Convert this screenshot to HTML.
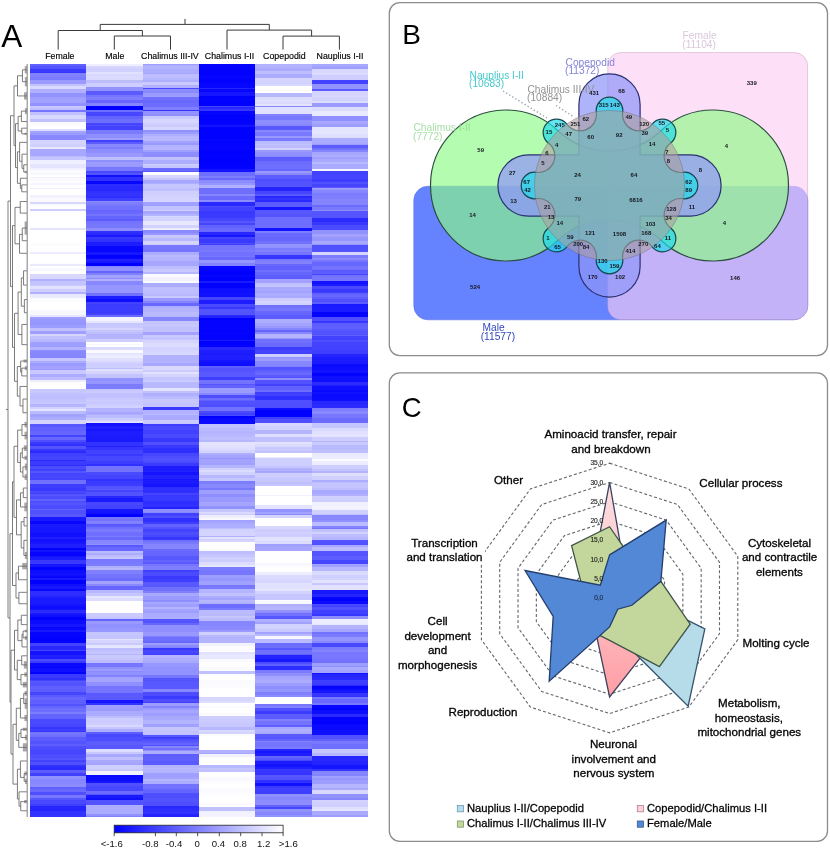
<!DOCTYPE html>
<html><head><meta charset="utf-8"><title>Figure</title>
<style>html,body{margin:0;padding:0;background:#fff;}body{width:830px;height:850px;position:relative;overflow:hidden;font-family:"Liberation Sans", Arial, Helvetica, sans-serif;}</style>
</head><body><svg width="830" height="850" viewBox="0 0 830 850" style="position:absolute;left:0;top:0" font-family='"Liberation Sans", Arial, Helvetica, sans-serif'><text x="1.2" y="46.8" font-size="31.5" fill="#000">A</text><path d="M185 18.9L185 24.4M100.2 24.4L269.3 24.4M100.2 24.4L100.2 30.5M58.2 30.5L142.4 30.5M58.2 30.5L58.2 49.6M142.4 30.5L142.4 36M114.3 36L170.5 36M114.3 36L114.3 49.6M170.5 36L170.5 49.6M269.3 24.4L269.3 30.1M227 30.1L311.6 30.1M227 30.1L227 49.6M311.6 30.1L311.6 36.1M283 36.1L339.4 36.1M283 36.1L283 49.6M339.4 36.1L339.4 49.6" stroke="#3a3a3a" stroke-width="1" fill="none"/><text x="59.85" y="59" font-size="8.8" text-anchor="middle" fill="#000" stroke="#000" stroke-width="0.15">Female</text><text x="114.85" y="59" font-size="8.8" text-anchor="middle" fill="#000" stroke="#000" stroke-width="0.15">Male</text><text x="169.9" y="59" font-size="8.8" text-anchor="middle" fill="#000" stroke="#000" stroke-width="0.15">Chalimus III-IV</text><text x="229.5" y="59" font-size="8.8" text-anchor="middle" fill="#000" stroke="#000" stroke-width="0.15">Chalimus I-II</text><text x="284.4" y="59" font-size="8.8" text-anchor="middle" fill="#000" stroke="#000" stroke-width="0.15">Copepodid</text><text x="340" y="59" font-size="8.8" text-anchor="middle" fill="#000" stroke="#000" stroke-width="0.15">Nauplius I-II</text><g shape-rendering="crispEdges"><rect x="30" y="63.5" width="56.6" height="0.84" fill="#7a7aff"/><rect x="30" y="64.04" width="56.6" height="2.02" fill="#6161ff"/><rect x="30" y="65.76" width="56.6" height="3.34" fill="#5353ff"/><rect x="30" y="68.8" width="56.6" height="3.32" fill="#3b3bff"/><rect x="30" y="71.83" width="56.6" height="1.36" fill="#3535ff"/><rect x="30" y="72.88" width="56.6" height="2.07" fill="#8181ff"/><rect x="30" y="74.66" width="56.6" height="3.07" fill="#8282ff"/><rect x="30" y="77.43" width="56.6" height="2.56" fill="#7b7bff"/><rect x="30" y="79.69" width="56.6" height="4.38" fill="#9a9aff"/><rect x="30" y="83.77" width="56.6" height="2.99" fill="#c2c2ff"/><rect x="30" y="86.46" width="56.6" height="3.05" fill="#d9d9ff"/><rect x="30" y="89.21" width="56.6" height="2.67" fill="#b0b0ff"/><rect x="30" y="91.58" width="56.6" height="2.01" fill="#b0b0ff"/><rect x="30" y="93.29" width="56.6" height="4.38" fill="#9393ff"/><rect x="30" y="97.37" width="56.6" height="2.34" fill="#9e9eff"/><rect x="30" y="99.42" width="56.6" height="3.7" fill="#a3a3ff"/><rect x="30" y="102.82" width="56.6" height="3.02" fill="#9191ff"/><rect x="30" y="105.54" width="56.6" height="2.42" fill="#c8c8ff"/><rect x="30" y="107.66" width="56.6" height="2.26" fill="#bfbfff"/><rect x="30" y="109.62" width="56.6" height="3.02" fill="#7575ff"/><rect x="30" y="112.34" width="56.6" height="3.16" fill="#c1c1ff"/><rect x="30" y="115.2" width="56.6" height="1.52" fill="#d7d7ff"/><rect x="30" y="116.42" width="56.6" height="3.02" fill="#d8d8ff"/><rect x="30" y="119.14" width="56.6" height="3.02" fill="#c1c1ff"/><rect x="30" y="121.86" width="56.6" height="3.99" fill="#fbfbff"/><rect x="30" y="125.55" width="56.6" height="2.15" fill="#ffffff"/><rect x="30" y="127.41" width="56.6" height="1.56" fill="#ffffff"/><rect x="30" y="128.67" width="56.6" height="3.02" fill="#ddddff"/><rect x="30" y="131.39" width="56.6" height="1.92" fill="#a2a2ff"/><rect x="30" y="133.01" width="56.6" height="2.76" fill="#9b9bff"/><rect x="30" y="135.47" width="56.6" height="4.38" fill="#8888ff"/><rect x="30" y="139.55" width="56.6" height="4.38" fill="#d4d4ff"/><rect x="30" y="143.63" width="56.6" height="3.54" fill="#d0d0ff"/><rect x="30" y="146.87" width="56.6" height="2.5" fill="#e8e8ff"/><rect x="30" y="149.07" width="56.6" height="3.22" fill="#a8a8ff"/><rect x="30" y="152" width="56.6" height="3.9" fill="#a7a7ff"/><rect x="30" y="155.6" width="56.6" height="1.66" fill="#bcbcff"/><rect x="30" y="156.97" width="56.6" height="0.33" fill="#c6c6ff"/><rect x="30" y="157" width="56.6" height="3.02" fill="#c5c5ff"/><rect x="30" y="159.72" width="56.6" height="3.19" fill="#efefff"/><rect x="30" y="162.61" width="56.6" height="1.5" fill="#f3f3ff"/><rect x="30" y="163.8" width="56.6" height="4.38" fill="#e5e5ff"/><rect x="30" y="167.88" width="56.6" height="2.19" fill="#f1f1ff"/><rect x="30" y="169.77" width="56.6" height="3.85" fill="#fbfbff"/><rect x="30" y="173.33" width="56.6" height="2.04" fill="#f8f8ff"/><rect x="30" y="175.07" width="56.6" height="1.96" fill="#ffffff"/><rect x="30" y="176.73" width="56.6" height="1.66" fill="#f0f0ff"/><rect x="30" y="178.09" width="56.6" height="3.05" fill="#fbfbff"/><rect x="30" y="180.83" width="56.6" height="2.88" fill="#ffffff"/><rect x="30" y="183.41" width="56.6" height="2.25" fill="#f5f5ff"/><rect x="30" y="185.36" width="56.6" height="2.55" fill="#ffffff"/><rect x="30" y="187.61" width="56.6" height="1.66" fill="#f2f2ff"/><rect x="30" y="188.97" width="56.6" height="3.57" fill="#ffffff"/><rect x="30" y="192.24" width="56.6" height="3.06" fill="#ffffff"/><rect x="30" y="195" width="56.6" height="2.91" fill="#f2f2ff"/><rect x="30" y="197.6" width="56.6" height="4.59" fill="#f9f9ff"/><rect x="30" y="201.9" width="56.6" height="2.34" fill="#d8d8ff"/><rect x="30" y="203.94" width="56.6" height="1.96" fill="#f9f9ff"/><rect x="30" y="205.6" width="56.6" height="3.4" fill="#ffffff"/><rect x="30" y="208.7" width="56.6" height="2.34" fill="#cfcfff"/><rect x="30" y="210.74" width="56.6" height="2.98" fill="#fdfdff"/><rect x="30" y="213.42" width="56.6" height="3.7" fill="#ffffff"/><rect x="30" y="216.82" width="56.6" height="1.99" fill="#ffffff"/><rect x="30" y="218.51" width="56.6" height="2.29" fill="#ffffff"/><rect x="30" y="220.5" width="56.6" height="2.82" fill="#ffffff"/><rect x="30" y="223.02" width="56.6" height="2.25" fill="#ffffff"/><rect x="30" y="224.97" width="56.6" height="3.08" fill="#fefeff"/><rect x="30" y="227.75" width="56.6" height="3.02" fill="#e4e4ff"/><rect x="30" y="230.47" width="56.6" height="3.64" fill="#ffffff"/><rect x="30" y="233.81" width="56.6" height="2.84" fill="#ffffff"/><rect x="30" y="236.35" width="56.6" height="2.89" fill="#ffffff"/><rect x="30" y="238.95" width="56.6" height="4.78" fill="#ffffff"/><rect x="30" y="243.43" width="56.6" height="3.2" fill="#fcfcff"/><rect x="30" y="246.32" width="56.6" height="2.11" fill="#ffffff"/><rect x="30" y="248.13" width="56.6" height="2.83" fill="#fefeff"/><rect x="30" y="250.66" width="56.6" height="1.61" fill="#ffffff"/><rect x="30" y="251.97" width="56.6" height="0.32" fill="#ffffff"/><rect x="30" y="252" width="56.6" height="2.34" fill="#ededff"/><rect x="30" y="254.04" width="56.6" height="3.43" fill="#ffffff"/><rect x="30" y="257.17" width="56.6" height="4.74" fill="#ffffff"/><rect x="30" y="261.61" width="56.6" height="2.94" fill="#fdfdff"/><rect x="30" y="264.24" width="56.6" height="1.66" fill="#eaeaff"/><rect x="30" y="265.61" width="56.6" height="2.3" fill="#ffffff"/><rect x="30" y="267.61" width="56.6" height="4.14" fill="#f8f8ff"/><rect x="30" y="271.44" width="56.6" height="3.31" fill="#ffffff"/><rect x="30" y="274.45" width="56.6" height="5.06" fill="#d8d8ff"/><rect x="30" y="279.21" width="56.6" height="2.34" fill="#b0b0ff"/><rect x="30" y="281.25" width="56.6" height="4.02" fill="#c3c3ff"/><rect x="30" y="284.97" width="56.6" height="1.34" fill="#cbcbff"/><rect x="30" y="286.01" width="56.6" height="1.89" fill="#e2e2ff"/><rect x="30" y="287.6" width="56.6" height="1.43" fill="#e1e1ff"/><rect x="30" y="288.73" width="56.6" height="3.88" fill="#ceceff"/><rect x="30" y="292.31" width="56.6" height="2.16" fill="#b0b0ff"/><rect x="30" y="294.18" width="56.6" height="3.7" fill="#eaeaff"/><rect x="30" y="297.58" width="56.6" height="4.67" fill="#fcfcff"/><rect x="30" y="301.94" width="56.6" height="2.48" fill="#ffffff"/><rect x="30" y="304.12" width="56.6" height="2.39" fill="#ffffff"/><rect x="30" y="306.21" width="56.6" height="4.5" fill="#ffffff"/><rect x="30" y="310.41" width="56.6" height="5.15" fill="#f6f6ff"/><rect x="30" y="315.27" width="56.6" height="2.34" fill="#e5e5ff"/><rect x="30" y="317.31" width="56.6" height="2.05" fill="#9e9eff"/><rect x="30" y="319.06" width="56.6" height="2.63" fill="#9898ff"/><rect x="30" y="321.39" width="56.6" height="4.05" fill="#9696ff"/><rect x="30" y="325.14" width="56.6" height="3.35" fill="#9d9dff"/><rect x="30" y="328.19" width="56.6" height="2.8" fill="#c0c0ff"/><rect x="30" y="330.69" width="56.6" height="3.24" fill="#9f9fff"/><rect x="30" y="333.63" width="56.6" height="3" fill="#d5d5ff"/><rect x="30" y="336.34" width="56.6" height="3.04" fill="#c1c1ff"/><rect x="30" y="339.07" width="56.6" height="3.02" fill="#b7b7ff"/><rect x="30" y="341.8" width="56.6" height="4.22" fill="#9f9fff"/><rect x="30" y="345.72" width="56.6" height="1.55" fill="#9b9bff"/><rect x="30" y="346.97" width="56.6" height="0.33" fill="#aeaeff"/><rect x="30" y="347" width="56.6" height="3.02" fill="#b3b3ff"/><rect x="30" y="349.72" width="56.6" height="1.84" fill="#8c8cff"/><rect x="30" y="351.26" width="56.6" height="4.71" fill="#8787ff"/><rect x="30" y="355.68" width="56.6" height="2.51" fill="#8484ff"/><rect x="30" y="357.88" width="56.6" height="3.1" fill="#c5c5ff"/><rect x="30" y="360.69" width="56.6" height="2.94" fill="#ababff"/><rect x="30" y="363.33" width="56.6" height="2.56" fill="#9a9aff"/><rect x="30" y="365.58" width="56.6" height="3.56" fill="#a3a3ff"/><rect x="30" y="368.84" width="56.6" height="1.59" fill="#9797ff"/><rect x="30" y="370.13" width="56.6" height="4.38" fill="#c9c9ff"/><rect x="30" y="374.21" width="56.6" height="2.86" fill="#ababff"/><rect x="30" y="376.77" width="56.6" height="3.18" fill="#bcbcff"/><rect x="30" y="379.65" width="56.6" height="3.02" fill="#ededff"/><rect x="30" y="382.37" width="56.6" height="3.4" fill="#fcfcff"/><rect x="30" y="385.47" width="56.6" height="4.01" fill="#ffffff"/><rect x="30" y="389.18" width="56.6" height="2.35" fill="#c8c8ff"/><rect x="30" y="391.23" width="56.6" height="1.81" fill="#c8c8ff"/><rect x="30" y="392.74" width="56.6" height="3.22" fill="#c1c1ff"/><rect x="30" y="395.66" width="56.6" height="3.98" fill="#bebeff"/><rect x="30" y="399.33" width="56.6" height="3.36" fill="#c3c3ff"/><rect x="30" y="402.39" width="56.6" height="2.05" fill="#c7c7ff"/><rect x="30" y="404.14" width="56.6" height="3.02" fill="#b4b4ff"/><rect x="30" y="406.86" width="56.6" height="2.55" fill="#d2d2ff"/><rect x="30" y="409.11" width="56.6" height="2.14" fill="#e5e5ff"/><rect x="30" y="410.95" width="56.6" height="3.49" fill="#babaff"/><rect x="30" y="414.13" width="56.6" height="3.13" fill="#a2a2ff"/><rect x="30" y="416.96" width="56.6" height="3.81" fill="#acacff"/><rect x="30" y="420.47" width="56.6" height="3.7" fill="#d4d4ff"/><rect x="30" y="423.87" width="56.6" height="3.16" fill="#5858ff"/><rect x="30" y="426.73" width="56.6" height="4.93" fill="#6161ff"/><rect x="30" y="431.35" width="56.6" height="3.9" fill="#6666ff"/><rect x="30" y="434.95" width="56.6" height="2.58" fill="#4444ff"/><rect x="30" y="437.23" width="56.6" height="3.48" fill="#6767ff"/><rect x="30" y="440.41" width="56.6" height="1.86" fill="#4e4eff"/><rect x="30" y="441.97" width="56.6" height="0.32" fill="#6e6eff"/><rect x="30" y="442" width="56.6" height="2.52" fill="#3a3aff"/><rect x="30" y="444.22" width="56.6" height="2.16" fill="#3030ff"/><rect x="30" y="446.08" width="56.6" height="3.7" fill="#5454ff"/><rect x="30" y="449.48" width="56.6" height="2.26" fill="#3636ff"/><rect x="30" y="451.45" width="56.6" height="2.23" fill="#2a2aff"/><rect x="30" y="453.38" width="56.6" height="2.53" fill="#4040ff"/><rect x="30" y="455.61" width="56.6" height="4.66" fill="#4545ff"/><rect x="30" y="459.96" width="56.6" height="1.38" fill="#2929ff"/><rect x="30" y="461.05" width="56.6" height="4.3" fill="#3b3bff"/><rect x="30" y="465.04" width="56.6" height="1.74" fill="#2e2eff"/><rect x="30" y="466.49" width="56.6" height="2.82" fill="#4c4cff"/><rect x="30" y="469.01" width="56.6" height="2.39" fill="#4040ff"/><rect x="30" y="471.09" width="56.6" height="1.86" fill="#5555ff"/><rect x="30" y="472.65" width="56.6" height="3.46" fill="#4545ff"/><rect x="30" y="475.81" width="56.6" height="2.79" fill="#4848ff"/><rect x="30" y="478.31" width="56.6" height="2.09" fill="#4343ff"/><rect x="30" y="480.1" width="56.6" height="4.38" fill="#7171ff"/><rect x="30" y="484.18" width="56.6" height="4.17" fill="#3d3dff"/><rect x="30" y="488.04" width="56.6" height="3.24" fill="#3838ff"/><rect x="30" y="490.98" width="56.6" height="1.92" fill="#4848ff"/><rect x="30" y="492.6" width="56.6" height="2.19" fill="#3f3fff"/><rect x="30" y="494.49" width="56.6" height="2.23" fill="#5656ff"/><rect x="30" y="496.42" width="56.6" height="2.58" fill="#4b4bff"/><rect x="30" y="498.7" width="56.6" height="2.25" fill="#6060ff"/><rect x="30" y="500.65" width="56.6" height="2.88" fill="#4f4fff"/><rect x="30" y="503.22" width="56.6" height="2.07" fill="#5555ff"/><rect x="30" y="504.99" width="56.6" height="3.97" fill="#4c4cff"/><rect x="30" y="508.67" width="56.6" height="2.02" fill="#6262ff"/><rect x="30" y="510.38" width="56.6" height="4.2" fill="#5050ff"/><rect x="30" y="514.29" width="56.6" height="2.84" fill="#5757ff"/><rect x="30" y="516.83" width="56.6" height="4.38" fill="#1919ff"/><rect x="30" y="520.91" width="56.6" height="3.16" fill="#0707ff"/><rect x="30" y="523.77" width="56.6" height="4.58" fill="#1919ff"/><rect x="30" y="528.05" width="56.6" height="2.6" fill="#1717ff"/><rect x="30" y="530.36" width="56.6" height="2.52" fill="#1717ff"/><rect x="30" y="532.57" width="56.6" height="2.13" fill="#1010ff"/><rect x="30" y="534.4" width="56.6" height="2.87" fill="#1111ff"/><rect x="30" y="536.97" width="56.6" height="0.33" fill="#0808ff"/><rect x="30" y="537" width="56.6" height="2.67" fill="#1e1eff"/><rect x="30" y="539.37" width="56.6" height="3.3" fill="#1212ff"/><rect x="30" y="542.37" width="56.6" height="1.85" fill="#1616ff"/><rect x="30" y="543.92" width="56.6" height="1.54" fill="#1e1eff"/><rect x="30" y="545.16" width="56.6" height="3.02" fill="#1e1eff"/><rect x="30" y="547.88" width="56.6" height="2.37" fill="#0000ff"/><rect x="30" y="549.95" width="56.6" height="2.12" fill="#1212ff"/><rect x="30" y="551.77" width="56.6" height="4.26" fill="#0404ff"/><rect x="30" y="555.73" width="56.6" height="1.98" fill="#1313ff"/><rect x="30" y="557.41" width="56.6" height="3.02" fill="#1b1bff"/><rect x="30" y="560.13" width="56.6" height="4.38" fill="#3838ff"/><rect x="30" y="564.21" width="56.6" height="2.83" fill="#1616ff"/><rect x="30" y="566.74" width="56.6" height="3.71" fill="#0101ff"/><rect x="30" y="570.15" width="56.6" height="3.01" fill="#0c0cff"/><rect x="30" y="572.86" width="56.6" height="2.19" fill="#1111ff"/><rect x="30" y="574.75" width="56.6" height="2.01" fill="#0e0eff"/><rect x="30" y="576.46" width="56.6" height="2.29" fill="#0707ff"/><rect x="30" y="578.45" width="56.6" height="2.05" fill="#1919ff"/><rect x="30" y="580.21" width="56.6" height="3.81" fill="#0000ff"/><rect x="30" y="583.72" width="56.6" height="2.65" fill="#0f0fff"/><rect x="30" y="586.06" width="56.6" height="3.18" fill="#1616ff"/><rect x="30" y="588.94" width="56.6" height="2.78" fill="#0707ff"/><rect x="30" y="591.42" width="56.6" height="4.69" fill="#2d2dff"/><rect x="30" y="595.81" width="56.6" height="2.72" fill="#2323ff"/><rect x="30" y="598.22" width="56.6" height="4.7" fill="#1a1aff"/><rect x="30" y="602.62" width="56.6" height="1.35" fill="#1c1cff"/><rect x="30" y="603.67" width="56.6" height="2.94" fill="#1414ff"/><rect x="30" y="606.31" width="56.6" height="3.22" fill="#0d0dff"/><rect x="30" y="609.24" width="56.6" height="1.53" fill="#1414ff"/><rect x="30" y="610.47" width="56.6" height="1.81" fill="#2a2aff"/><rect x="30" y="611.98" width="56.6" height="1.51" fill="#2f2fff"/><rect x="30" y="613.19" width="56.6" height="1.93" fill="#1717ff"/><rect x="30" y="614.82" width="56.6" height="2.5" fill="#0f0fff"/><rect x="30" y="617.01" width="56.6" height="3.56" fill="#0000ff"/><rect x="30" y="620.27" width="56.6" height="3.77" fill="#0b0bff"/><rect x="30" y="623.74" width="56.6" height="3.95" fill="#1515ff"/><rect x="30" y="627.39" width="56.6" height="2.78" fill="#0707ff"/><rect x="30" y="629.87" width="56.6" height="2.4" fill="#1818ff"/><rect x="30" y="631.97" width="56.6" height="0.33" fill="#0404ff"/><rect x="30" y="632" width="56.6" height="1.93" fill="#0303ff"/><rect x="30" y="633.63" width="56.6" height="3.68" fill="#0505ff"/><rect x="30" y="637.01" width="56.6" height="4" fill="#0101ff"/><rect x="30" y="640.71" width="56.6" height="2.47" fill="#0202ff"/><rect x="30" y="642.88" width="56.6" height="3.31" fill="#4242ff"/><rect x="30" y="645.9" width="56.6" height="4.28" fill="#2929ff"/><rect x="30" y="649.88" width="56.6" height="1.47" fill="#4444ff"/><rect x="30" y="651.05" width="56.6" height="3.88" fill="#1313ff"/><rect x="30" y="654.63" width="56.6" height="2.49" fill="#2222ff"/><rect x="30" y="656.82" width="56.6" height="2.69" fill="#1d1dff"/><rect x="30" y="659.21" width="56.6" height="2.11" fill="#4d4dff"/><rect x="30" y="661.03" width="56.6" height="2.57" fill="#3c3cff"/><rect x="30" y="663.29" width="56.6" height="3.68" fill="#0909ff"/><rect x="30" y="666.67" width="56.6" height="1.81" fill="#0404ff"/><rect x="30" y="668.18" width="56.6" height="4.19" fill="#0e0eff"/><rect x="30" y="672.07" width="56.6" height="2.4" fill="#0202ff"/><rect x="30" y="674.18" width="56.6" height="3.78" fill="#3939ff"/><rect x="30" y="677.65" width="56.6" height="2.26" fill="#3131ff"/><rect x="30" y="679.62" width="56.6" height="2.02" fill="#4545ff"/><rect x="30" y="681.34" width="56.6" height="2.42" fill="#5757ff"/><rect x="30" y="683.46" width="56.6" height="3.26" fill="#5252ff"/><rect x="30" y="686.42" width="56.6" height="2.95" fill="#6161ff"/><rect x="30" y="689.07" width="56.6" height="3.09" fill="#5c5cff"/><rect x="30" y="691.86" width="56.6" height="3.65" fill="#4646ff"/><rect x="30" y="695.21" width="56.6" height="2.39" fill="#5a5aff"/><rect x="30" y="697.31" width="56.6" height="2.56" fill="#6666ff"/><rect x="30" y="699.57" width="56.6" height="3.48" fill="#5f5fff"/><rect x="30" y="702.75" width="56.6" height="1.84" fill="#6161ff"/><rect x="30" y="704.29" width="56.6" height="1.98" fill="#5353ff"/><rect x="30" y="705.97" width="56.6" height="2.52" fill="#6464ff"/><rect x="30" y="708.19" width="56.6" height="3.83" fill="#6e6eff"/><rect x="30" y="711.72" width="56.6" height="2.22" fill="#7d7dff"/><rect x="30" y="713.63" width="56.6" height="3.2" fill="#6464ff"/><rect x="30" y="716.53" width="56.6" height="2.84" fill="#6363ff"/><rect x="30" y="719.07" width="56.6" height="4.73" fill="#4949ff"/><rect x="30" y="723.51" width="56.6" height="3.76" fill="#4646ff"/><rect x="30" y="726.97" width="56.6" height="0.33" fill="#4343ff"/><rect x="30" y="727" width="56.6" height="2.61" fill="#3737ff"/><rect x="30" y="729.31" width="56.6" height="2.43" fill="#3f3fff"/><rect x="30" y="731.44" width="56.6" height="1.31" fill="#3636ff"/><rect x="30" y="732.44" width="56.6" height="3.02" fill="#7575ff"/><rect x="30" y="735.16" width="56.6" height="2.2" fill="#6e6eff"/><rect x="30" y="737.06" width="56.6" height="3.84" fill="#5d5dff"/><rect x="30" y="740.61" width="56.6" height="3.91" fill="#5454ff"/><rect x="30" y="744.22" width="56.6" height="2.49" fill="#5e5eff"/><rect x="30" y="746.41" width="56.6" height="1.87" fill="#4e4eff"/><rect x="30" y="747.98" width="56.6" height="2.45" fill="#4a4aff"/><rect x="30" y="750.13" width="56.6" height="2.71" fill="#4747ff"/><rect x="30" y="752.54" width="56.6" height="2.22" fill="#4242ff"/><rect x="30" y="754.46" width="56.6" height="4.14" fill="#4e4eff"/><rect x="30" y="758.29" width="56.6" height="1.81" fill="#5555ff"/><rect x="30" y="759.8" width="56.6" height="2.16" fill="#4242ff"/><rect x="30" y="761.66" width="56.6" height="3.74" fill="#5050ff"/><rect x="30" y="765.1" width="56.6" height="2.67" fill="#3232ff"/><rect x="30" y="767.46" width="56.6" height="2.92" fill="#2a2aff"/><rect x="30" y="770.08" width="56.6" height="3.57" fill="#5d5dff"/><rect x="30" y="773.35" width="56.6" height="2.93" fill="#4040ff"/><rect x="30" y="775.98" width="56.6" height="1.94" fill="#9191ff"/><rect x="30" y="777.62" width="56.6" height="2.11" fill="#9292ff"/><rect x="30" y="779.43" width="56.6" height="4.61" fill="#8787ff"/><rect x="30" y="783.74" width="56.6" height="3.43" fill="#8c8cff"/><rect x="30" y="786.86" width="56.6" height="2.37" fill="#6161ff"/><rect x="30" y="788.93" width="56.6" height="2.92" fill="#6969ff"/><rect x="30" y="791.55" width="56.6" height="3.77" fill="#4f4fff"/><rect x="30" y="795.03" width="56.6" height="3.69" fill="#7777ff"/><rect x="30" y="798.42" width="56.6" height="2.35" fill="#5757ff"/><rect x="30" y="800.47" width="56.6" height="3.96" fill="#4848ff"/><rect x="30" y="804.13" width="56.6" height="2.08" fill="#3e3eff"/><rect x="30" y="805.91" width="56.6" height="4.06" fill="#2525ff"/><rect x="30" y="809.67" width="56.6" height="1.95" fill="#2424ff"/><rect x="30" y="811.32" width="56.6" height="4.58" fill="#3232ff"/><rect x="30" y="815.6" width="56.6" height="1.7" fill="#3333ff"/><rect x="86.3" y="63.5" width="56.6" height="2.69" fill="#efefff"/><rect x="86.3" y="65.89" width="56.6" height="2.53" fill="#d6d6ff"/><rect x="86.3" y="68.12" width="56.6" height="3.77" fill="#d1d1ff"/><rect x="86.3" y="71.59" width="56.6" height="2.98" fill="#e1e1ff"/><rect x="86.3" y="74.27" width="56.6" height="2.3" fill="#d8d8ff"/><rect x="86.3" y="76.28" width="56.6" height="3.71" fill="#dadaff"/><rect x="86.3" y="79.69" width="56.6" height="3.29" fill="#bcbcff"/><rect x="86.3" y="82.68" width="56.6" height="4.79" fill="#cdcdff"/><rect x="86.3" y="87.17" width="56.6" height="3.7" fill="#9292ff"/><rect x="86.3" y="90.57" width="56.6" height="2.07" fill="#5a5aff"/><rect x="86.3" y="92.34" width="56.6" height="2.61" fill="#5b5bff"/><rect x="86.3" y="94.65" width="56.6" height="2.58" fill="#7575ff"/><rect x="86.3" y="96.93" width="56.6" height="3.51" fill="#7e7eff"/><rect x="86.3" y="100.14" width="56.6" height="2.98" fill="#6767ff"/><rect x="86.3" y="102.82" width="56.6" height="3.02" fill="#8484ff"/><rect x="86.3" y="105.54" width="56.6" height="2.81" fill="#0000ff"/><rect x="86.3" y="108.05" width="56.6" height="1.87" fill="#0101ff"/><rect x="86.3" y="109.62" width="56.6" height="2.18" fill="#6f6fff"/><rect x="86.3" y="111.5" width="56.6" height="3.31" fill="#4747ff"/><rect x="86.3" y="114.51" width="56.6" height="2.21" fill="#4747ff"/><rect x="86.3" y="116.42" width="56.6" height="2.61" fill="#6363ff"/><rect x="86.3" y="118.73" width="56.6" height="3.14" fill="#6d6dff"/><rect x="86.3" y="121.57" width="56.6" height="1.95" fill="#6f6fff"/><rect x="86.3" y="123.22" width="56.6" height="1.87" fill="#4545ff"/><rect x="86.3" y="124.79" width="56.6" height="1.9" fill="#5050ff"/><rect x="86.3" y="126.39" width="56.6" height="3.94" fill="#4141ff"/><rect x="86.3" y="130.03" width="56.6" height="4.38" fill="#7b7bff"/><rect x="86.3" y="134.11" width="56.6" height="4.58" fill="#8e8eff"/><rect x="86.3" y="138.39" width="56.6" height="1.46" fill="#9e9eff"/><rect x="86.3" y="139.55" width="56.6" height="2.55" fill="#4040ff"/><rect x="86.3" y="141.8" width="56.6" height="2.14" fill="#5c5cff"/><rect x="86.3" y="143.63" width="56.6" height="3.85" fill="#8989ff"/><rect x="86.3" y="147.18" width="56.6" height="2.2" fill="#7d7dff"/><rect x="86.3" y="149.07" width="56.6" height="4.09" fill="#8e8eff"/><rect x="86.3" y="152.87" width="56.6" height="3.17" fill="#9999ff"/><rect x="86.3" y="155.74" width="56.6" height="1.52" fill="#9b9bff"/><rect x="86.3" y="156.97" width="56.6" height="0.33" fill="#9a9aff"/><rect x="86.3" y="157" width="56.6" height="3.02" fill="#bfbfff"/><rect x="86.3" y="159.72" width="56.6" height="2.18" fill="#8e8eff"/><rect x="86.3" y="161.6" width="56.6" height="3.9" fill="#9c9cff"/><rect x="86.3" y="165.2" width="56.6" height="1.62" fill="#9999ff"/><rect x="86.3" y="166.52" width="56.6" height="4.38" fill="#7777ff"/><rect x="86.3" y="170.61" width="56.6" height="2.96" fill="#4949ff"/><rect x="86.3" y="173.27" width="56.6" height="1.72" fill="#5454ff"/><rect x="86.3" y="174.69" width="56.6" height="2.7" fill="#1212ff"/><rect x="86.3" y="177.09" width="56.6" height="4.7" fill="#3131ff"/><rect x="86.3" y="181.49" width="56.6" height="3.02" fill="#0707ff"/><rect x="86.3" y="184.21" width="56.6" height="2.54" fill="#2c2cff"/><rect x="86.3" y="186.45" width="56.6" height="4.86" fill="#2828ff"/><rect x="86.3" y="191.01" width="56.6" height="1.87" fill="#3131ff"/><rect x="86.3" y="192.58" width="56.6" height="3.29" fill="#3434ff"/><rect x="86.3" y="195.57" width="56.6" height="2.57" fill="#2f2fff"/><rect x="86.3" y="197.85" width="56.6" height="2.99" fill="#3f3fff"/><rect x="86.3" y="200.54" width="56.6" height="1.9" fill="#8a8aff"/><rect x="86.3" y="202.14" width="56.6" height="2.1" fill="#8080ff"/><rect x="86.3" y="203.94" width="56.6" height="2.39" fill="#7979ff"/><rect x="86.3" y="206.03" width="56.6" height="4.19" fill="#7171ff"/><rect x="86.3" y="209.92" width="56.6" height="2.42" fill="#6666ff"/><rect x="86.3" y="212.04" width="56.6" height="2.4" fill="#6a6aff"/><rect x="86.3" y="214.14" width="56.6" height="2.49" fill="#7474ff"/><rect x="86.3" y="216.34" width="56.6" height="2.46" fill="#6464ff"/><rect x="86.3" y="218.5" width="56.6" height="2.75" fill="#5b5bff"/><rect x="86.3" y="220.95" width="56.6" height="3.29" fill="#7474ff"/><rect x="86.3" y="223.93" width="56.6" height="3.05" fill="#7878ff"/><rect x="86.3" y="226.68" width="56.6" height="1.36" fill="#7777ff"/><rect x="86.3" y="227.75" width="56.6" height="3.7" fill="#8c8cff"/><rect x="86.3" y="231.15" width="56.6" height="2.44" fill="#3030ff"/><rect x="86.3" y="233.29" width="56.6" height="1.96" fill="#2a2aff"/><rect x="86.3" y="234.94" width="56.6" height="1.98" fill="#1a1aff"/><rect x="86.3" y="236.62" width="56.6" height="2.31" fill="#3838ff"/><rect x="86.3" y="238.63" width="56.6" height="4" fill="#3333ff"/><rect x="86.3" y="242.33" width="56.6" height="2.04" fill="#1c1cff"/><rect x="86.3" y="244.07" width="56.6" height="2.36" fill="#1d1dff"/><rect x="86.3" y="246.13" width="56.6" height="1.9" fill="#0808ff"/><rect x="86.3" y="247.73" width="56.6" height="4.54" fill="#0707ff"/><rect x="86.3" y="251.97" width="56.6" height="0.32" fill="#0202ff"/><rect x="86.3" y="252" width="56.6" height="3.02" fill="#1616ff"/><rect x="86.3" y="254.72" width="56.6" height="2.85" fill="#0000ff"/><rect x="86.3" y="257.28" width="56.6" height="1.83" fill="#0505ff"/><rect x="86.3" y="258.8" width="56.6" height="2.42" fill="#2020ff"/><rect x="86.3" y="260.92" width="56.6" height="2.87" fill="#1616ff"/><rect x="86.3" y="263.49" width="56.6" height="2.41" fill="#0000ff"/><rect x="86.3" y="265.61" width="56.6" height="1.95" fill="#8484ff"/><rect x="86.3" y="267.25" width="56.6" height="4.09" fill="#8f8fff"/><rect x="86.3" y="271.05" width="56.6" height="2.38" fill="#6363ff"/><rect x="86.3" y="273.13" width="56.6" height="2.3" fill="#8181ff"/><rect x="86.3" y="275.13" width="56.6" height="3.03" fill="#a2a2ff"/><rect x="86.3" y="277.86" width="56.6" height="1.92" fill="#8c8cff"/><rect x="86.3" y="279.48" width="56.6" height="1.39" fill="#b0b0ff"/><rect x="86.3" y="280.57" width="56.6" height="2.57" fill="#8888ff"/><rect x="86.3" y="282.84" width="56.6" height="2.11" fill="#8787ff"/><rect x="86.3" y="284.65" width="56.6" height="2.62" fill="#9696ff"/><rect x="86.3" y="286.97" width="56.6" height="4.67" fill="#9696ff"/><rect x="86.3" y="291.34" width="56.6" height="1.77" fill="#9797ff"/><rect x="86.3" y="292.82" width="56.6" height="3.02" fill="#7171ff"/><rect x="86.3" y="295.54" width="56.6" height="4.07" fill="#1d1dff"/><rect x="86.3" y="299.3" width="56.6" height="3.34" fill="#0d0dff"/><rect x="86.3" y="302.34" width="56.6" height="1.87" fill="#4343ff"/><rect x="86.3" y="303.91" width="56.6" height="2.81" fill="#3c3cff"/><rect x="86.3" y="306.42" width="56.6" height="4.66" fill="#3d3dff"/><rect x="86.3" y="310.78" width="56.6" height="2.96" fill="#3939ff"/><rect x="86.3" y="313.44" width="56.6" height="1.44" fill="#4343ff"/><rect x="86.3" y="314.59" width="56.6" height="3.02" fill="#6a6aff"/><rect x="86.3" y="317.31" width="56.6" height="4.02" fill="#f3f3ff"/><rect x="86.3" y="321.02" width="56.6" height="2.03" fill="#e5e5ff"/><rect x="86.3" y="322.75" width="56.6" height="2.78" fill="#c7c7ff"/><rect x="86.3" y="325.23" width="56.6" height="3.26" fill="#c9c9ff"/><rect x="86.3" y="328.19" width="56.6" height="2.04" fill="#d4d4ff"/><rect x="86.3" y="329.93" width="56.6" height="2.39" fill="#c6c6ff"/><rect x="86.3" y="332.02" width="56.6" height="1.91" fill="#bfbfff"/><rect x="86.3" y="333.63" width="56.6" height="1.9" fill="#b0b0ff"/><rect x="86.3" y="335.23" width="56.6" height="4.14" fill="#b5b5ff"/><rect x="86.3" y="339.07" width="56.6" height="3.02" fill="#ceceff"/><rect x="86.3" y="341.8" width="56.6" height="2.05" fill="#ffffff"/><rect x="86.3" y="343.55" width="56.6" height="2.09" fill="#f6f6ff"/><rect x="86.3" y="345.34" width="56.6" height="1.93" fill="#ffffff"/><rect x="86.3" y="346.97" width="56.6" height="0.33" fill="#babaff"/><rect x="86.3" y="347" width="56.6" height="3.02" fill="#dbdbff"/><rect x="86.3" y="349.72" width="56.6" height="4.04" fill="#f9f9ff"/><rect x="86.3" y="353.47" width="56.6" height="2.16" fill="#e5e5ff"/><rect x="86.3" y="355.33" width="56.6" height="2.86" fill="#ededff"/><rect x="86.3" y="357.88" width="56.6" height="2.92" fill="#e1e1ff"/><rect x="86.3" y="360.5" width="56.6" height="3.12" fill="#d7d7ff"/><rect x="86.3" y="363.33" width="56.6" height="2.54" fill="#cdcdff"/><rect x="86.3" y="365.56" width="56.6" height="2.26" fill="#d0d0ff"/><rect x="86.3" y="367.52" width="56.6" height="1.55" fill="#bebeff"/><rect x="86.3" y="368.77" width="56.6" height="2.99" fill="#e0e0ff"/><rect x="86.3" y="371.46" width="56.6" height="2.49" fill="#d4d4ff"/><rect x="86.3" y="373.65" width="56.6" height="4.94" fill="#c3c3ff"/><rect x="86.3" y="378.29" width="56.6" height="3.02" fill="#9191ff"/><rect x="86.3" y="381.01" width="56.6" height="3.22" fill="#9696ff"/><rect x="86.3" y="383.94" width="56.6" height="5.54" fill="#7c7cff"/><rect x="86.3" y="389.18" width="56.6" height="1.92" fill="#c5c5ff"/><rect x="86.3" y="390.8" width="56.6" height="2.76" fill="#cbcbff"/><rect x="86.3" y="393.26" width="56.6" height="4.72" fill="#c1c1ff"/><rect x="86.3" y="397.68" width="56.6" height="2.92" fill="#c9c9ff"/><rect x="86.3" y="400.29" width="56.6" height="1.43" fill="#cdcdff"/><rect x="86.3" y="401.42" width="56.6" height="4.13" fill="#c9c9ff"/><rect x="86.3" y="405.26" width="56.6" height="3.27" fill="#d1d1ff"/><rect x="86.3" y="408.22" width="56.6" height="3.66" fill="#b2b2ff"/><rect x="86.3" y="411.58" width="56.6" height="2.45" fill="#a6a6ff"/><rect x="86.3" y="413.74" width="56.6" height="1.59" fill="#aeaeff"/><rect x="86.3" y="415.03" width="56.6" height="3.02" fill="#bbbbff"/><rect x="86.3" y="417.75" width="56.6" height="2.41" fill="#ccccff"/><rect x="86.3" y="419.86" width="56.6" height="1.83" fill="#ceceff"/><rect x="86.3" y="421.39" width="56.6" height="2.1" fill="#e2e2ff"/><rect x="86.3" y="423.19" width="56.6" height="2.74" fill="#1313ff"/><rect x="86.3" y="425.63" width="56.6" height="3.44" fill="#1f1fff"/><rect x="86.3" y="428.77" width="56.6" height="2.88" fill="#1616ff"/><rect x="86.3" y="431.35" width="56.6" height="3.45" fill="#1d1dff"/><rect x="86.3" y="434.5" width="56.6" height="3.72" fill="#1c1cff"/><rect x="86.3" y="437.92" width="56.6" height="4.34" fill="#1a1aff"/><rect x="86.3" y="441.97" width="56.6" height="0.32" fill="#0c0cff"/><rect x="86.3" y="442" width="56.6" height="4.66" fill="#3333ff"/><rect x="86.3" y="446.36" width="56.6" height="1.38" fill="#2222ff"/><rect x="86.3" y="447.44" width="56.6" height="3.05" fill="#3535ff"/><rect x="86.3" y="450.19" width="56.6" height="4.39" fill="#4242ff"/><rect x="86.3" y="454.28" width="56.6" height="1.62" fill="#3838ff"/><rect x="86.3" y="455.61" width="56.6" height="3.98" fill="#4747ff"/><rect x="86.3" y="459.29" width="56.6" height="2.06" fill="#4848ff"/><rect x="86.3" y="461.05" width="56.6" height="3.07" fill="#3d3dff"/><rect x="86.3" y="463.82" width="56.6" height="2.29" fill="#3030ff"/><rect x="86.3" y="465.81" width="56.6" height="3.18" fill="#7272ff"/><rect x="86.3" y="468.69" width="56.6" height="3.54" fill="#7373ff"/><rect x="86.3" y="471.93" width="56.6" height="3.72" fill="#4a4aff"/><rect x="86.3" y="475.35" width="56.6" height="3.68" fill="#4545ff"/><rect x="86.3" y="478.73" width="56.6" height="2.91" fill="#3333ff"/><rect x="86.3" y="481.35" width="56.6" height="2.65" fill="#3939ff"/><rect x="86.3" y="483.7" width="56.6" height="2.14" fill="#3d3dff"/><rect x="86.3" y="485.54" width="56.6" height="3.27" fill="#5353ff"/><rect x="86.3" y="488.51" width="56.6" height="1.41" fill="#5b5bff"/><rect x="86.3" y="489.62" width="56.6" height="2.18" fill="#4545ff"/><rect x="86.3" y="491.5" width="56.6" height="5.22" fill="#5252ff"/><rect x="86.3" y="496.42" width="56.6" height="1.96" fill="#2929ff"/><rect x="86.3" y="498.08" width="56.6" height="4.08" fill="#1a1aff"/><rect x="86.3" y="501.86" width="56.6" height="3.66" fill="#4747ff"/><rect x="86.3" y="505.22" width="56.6" height="3.74" fill="#4242ff"/><rect x="86.3" y="508.67" width="56.6" height="2.47" fill="#1717ff"/><rect x="86.3" y="510.83" width="56.6" height="3.01" fill="#1313ff"/><rect x="86.3" y="513.55" width="56.6" height="2.35" fill="#0000ff"/><rect x="86.3" y="515.6" width="56.6" height="1.53" fill="#0000ff"/><rect x="86.3" y="516.83" width="56.6" height="2.95" fill="#7878ff"/><rect x="86.3" y="519.48" width="56.6" height="2.17" fill="#7272ff"/><rect x="86.3" y="521.35" width="56.6" height="2.58" fill="#8181ff"/><rect x="86.3" y="523.63" width="56.6" height="1.92" fill="#5454ff"/><rect x="86.3" y="525.26" width="56.6" height="1.91" fill="#5d5dff"/><rect x="86.3" y="526.87" width="56.6" height="2.5" fill="#6d6dff"/><rect x="86.3" y="529.07" width="56.6" height="3.45" fill="#7a7aff"/><rect x="86.3" y="532.22" width="56.6" height="3.68" fill="#6e6eff"/><rect x="86.3" y="535.61" width="56.6" height="1.66" fill="#7b7bff"/><rect x="86.3" y="536.97" width="56.6" height="0.33" fill="#4f4fff"/><rect x="86.3" y="537" width="56.6" height="3.02" fill="#6868ff"/><rect x="86.3" y="539.72" width="56.6" height="1.87" fill="#8585ff"/><rect x="86.3" y="541.29" width="56.6" height="2.51" fill="#8686ff"/><rect x="86.3" y="543.5" width="56.6" height="1.97" fill="#9090ff"/><rect x="86.3" y="545.16" width="56.6" height="2.34" fill="#5858ff"/><rect x="86.3" y="547.2" width="56.6" height="3.7" fill="#6767ff"/><rect x="86.3" y="550.61" width="56.6" height="3.09" fill="#bbbbff"/><rect x="86.3" y="553.4" width="56.6" height="2.08" fill="#adadff"/><rect x="86.3" y="555.17" width="56.6" height="1.92" fill="#bcbcff"/><rect x="86.3" y="556.79" width="56.6" height="2.27" fill="#c6c6ff"/><rect x="86.3" y="558.77" width="56.6" height="4.13" fill="#7979ff"/><rect x="86.3" y="562.6" width="56.6" height="3.27" fill="#7c7cff"/><rect x="86.3" y="565.57" width="56.6" height="2.93" fill="#aeaeff"/><rect x="86.3" y="568.21" width="56.6" height="1.75" fill="#b7b7ff"/><rect x="86.3" y="569.65" width="56.6" height="4.79" fill="#8080ff"/><rect x="86.3" y="574.14" width="56.6" height="4" fill="#7474ff"/><rect x="86.3" y="577.84" width="56.6" height="3" fill="#6b6bff"/><rect x="86.3" y="580.54" width="56.6" height="3.28" fill="#a3a3ff"/><rect x="86.3" y="583.51" width="56.6" height="2.77" fill="#8888ff"/><rect x="86.3" y="585.98" width="56.6" height="4.38" fill="#6666ff"/><rect x="86.3" y="590.06" width="56.6" height="2.85" fill="#b7b7ff"/><rect x="86.3" y="592.61" width="56.6" height="3.19" fill="#c4c4ff"/><rect x="86.3" y="595.5" width="56.6" height="2.62" fill="#e6e6ff"/><rect x="86.3" y="597.83" width="56.6" height="3.42" fill="#dcdcff"/><rect x="86.3" y="600.95" width="56.6" height="4.56" fill="#ffffff"/><rect x="86.3" y="605.21" width="56.6" height="2.42" fill="#fefeff"/><rect x="86.3" y="607.33" width="56.6" height="2.76" fill="#ffffff"/><rect x="86.3" y="609.79" width="56.6" height="1.91" fill="#ffffff"/><rect x="86.3" y="611.4" width="56.6" height="2.09" fill="#ffffff"/><rect x="86.3" y="613.19" width="56.6" height="3.84" fill="#cbcbff"/><rect x="86.3" y="616.73" width="56.6" height="2.2" fill="#c3c3ff"/><rect x="86.3" y="618.63" width="56.6" height="3.02" fill="#6363ff"/><rect x="86.3" y="621.35" width="56.6" height="2.88" fill="#9999ff"/><rect x="86.3" y="623.93" width="56.6" height="4.42" fill="#9090ff"/><rect x="86.3" y="628.05" width="56.6" height="4.21" fill="#9797ff"/><rect x="86.3" y="631.97" width="56.6" height="0.33" fill="#d4d4ff"/><rect x="86.3" y="632" width="56.6" height="2.98" fill="#c6c6ff"/><rect x="86.3" y="634.68" width="56.6" height="4.19" fill="#c4c4ff"/><rect x="86.3" y="638.58" width="56.6" height="1.89" fill="#e4e4ff"/><rect x="86.3" y="640.16" width="56.6" height="2.88" fill="#d5d5ff"/><rect x="86.3" y="642.74" width="56.6" height="2.33" fill="#cacaff"/><rect x="86.3" y="644.77" width="56.6" height="3.85" fill="#e6e6ff"/><rect x="86.3" y="648.33" width="56.6" height="2.56" fill="#bebeff"/><rect x="86.3" y="650.59" width="56.6" height="3.72" fill="#c5c5ff"/><rect x="86.3" y="654.01" width="56.6" height="1.42" fill="#b7b7ff"/><rect x="86.3" y="655.13" width="56.6" height="2.74" fill="#c9c9ff"/><rect x="86.3" y="657.57" width="56.6" height="2.25" fill="#c6c6ff"/><rect x="86.3" y="659.52" width="56.6" height="4.08" fill="#bcbcff"/><rect x="86.3" y="663.29" width="56.6" height="4.38" fill="#7676ff"/><rect x="86.3" y="667.37" width="56.6" height="2.2" fill="#9090ff"/><rect x="86.3" y="669.27" width="56.6" height="1.87" fill="#9c9cff"/><rect x="86.3" y="670.84" width="56.6" height="1.81" fill="#8b8bff"/><rect x="86.3" y="672.34" width="56.6" height="2.87" fill="#9191ff"/><rect x="86.3" y="674.92" width="56.6" height="2.28" fill="#8282ff"/><rect x="86.3" y="676.9" width="56.6" height="2.41" fill="#a3a3ff"/><rect x="86.3" y="679.01" width="56.6" height="3.63" fill="#a5a5ff"/><rect x="86.3" y="682.34" width="56.6" height="4.38" fill="#8f8fff"/><rect x="86.3" y="686.42" width="56.6" height="2.53" fill="#7474ff"/><rect x="86.3" y="688.65" width="56.6" height="3.71" fill="#7575ff"/><rect x="86.3" y="692.07" width="56.6" height="1.46" fill="#7373ff"/><rect x="86.3" y="693.22" width="56.6" height="2.59" fill="#5959ff"/><rect x="86.3" y="695.52" width="56.6" height="1.83" fill="#5b5bff"/><rect x="86.3" y="697.05" width="56.6" height="3.28" fill="#5959ff"/><rect x="86.3" y="700.03" width="56.6" height="3.74" fill="#1515ff"/><rect x="86.3" y="703.46" width="56.6" height="2.31" fill="#3333ff"/><rect x="86.3" y="705.47" width="56.6" height="2.55" fill="#9e9eff"/><rect x="86.3" y="707.71" width="56.6" height="3.5" fill="#9a9aff"/><rect x="86.3" y="710.91" width="56.6" height="3.02" fill="#aaaaff"/><rect x="86.3" y="713.63" width="56.6" height="3.02" fill="#adadff"/><rect x="86.3" y="716.35" width="56.6" height="1.84" fill="#bebeff"/><rect x="86.3" y="717.89" width="56.6" height="2.23" fill="#cdcdff"/><rect x="86.3" y="719.82" width="56.6" height="2.4" fill="#cbcbff"/><rect x="86.3" y="721.92" width="56.6" height="3.72" fill="#cdcdff"/><rect x="86.3" y="725.34" width="56.6" height="1.93" fill="#d8d8ff"/><rect x="86.3" y="726.97" width="56.6" height="0.33" fill="#c0c0ff"/><rect x="86.3" y="727" width="56.6" height="1.95" fill="#c5c5ff"/><rect x="86.3" y="728.65" width="56.6" height="4.1" fill="#adadff"/><rect x="86.3" y="732.44" width="56.6" height="1.82" fill="#5e5eff"/><rect x="86.3" y="733.96" width="56.6" height="3.2" fill="#4747ff"/><rect x="86.3" y="736.86" width="56.6" height="4.03" fill="#4e4eff"/><rect x="86.3" y="740.58" width="56.6" height="2.12" fill="#5757ff"/><rect x="86.3" y="742.4" width="56.6" height="2.5" fill="#5e5eff"/><rect x="86.3" y="744.6" width="56.6" height="4.47" fill="#5757ff"/><rect x="86.3" y="748.77" width="56.6" height="3.89" fill="#ddddff"/><rect x="86.3" y="752.35" width="56.6" height="2.16" fill="#c8c8ff"/><rect x="86.3" y="754.21" width="56.6" height="3.46" fill="#a8a8ff"/><rect x="86.3" y="757.37" width="56.6" height="3.37" fill="#bfbfff"/><rect x="86.3" y="760.44" width="56.6" height="2.6" fill="#a8a8ff"/><rect x="86.3" y="762.74" width="56.6" height="2.66" fill="#a4a4ff"/><rect x="86.3" y="765.1" width="56.6" height="4.44" fill="#ceceff"/><rect x="86.3" y="769.24" width="56.6" height="1.6" fill="#c7c7ff"/><rect x="86.3" y="770.54" width="56.6" height="4.38" fill="#f2f2ff"/><rect x="86.3" y="774.62" width="56.6" height="2.78" fill="#0909ff"/><rect x="86.3" y="777.1" width="56.6" height="4.44" fill="#0b0bff"/><rect x="86.3" y="781.24" width="56.6" height="1.84" fill="#1515ff"/><rect x="86.3" y="782.78" width="56.6" height="3.69" fill="#5050ff"/><rect x="86.3" y="786.17" width="56.6" height="5.07" fill="#4747ff"/><rect x="86.3" y="790.95" width="56.6" height="3.21" fill="#6b6bff"/><rect x="86.3" y="793.85" width="56.6" height="1.47" fill="#5656ff"/><rect x="86.3" y="795.03" width="56.6" height="3.11" fill="#1a1aff"/><rect x="86.3" y="797.84" width="56.6" height="2.93" fill="#1010ff"/><rect x="86.3" y="800.47" width="56.6" height="2.44" fill="#5252ff"/><rect x="86.3" y="802.61" width="56.6" height="2.25" fill="#5252ff"/><rect x="86.3" y="804.55" width="56.6" height="2.23" fill="#afafff"/><rect x="86.3" y="806.48" width="56.6" height="4.59" fill="#ababff"/><rect x="86.3" y="810.77" width="56.6" height="3.6" fill="#acacff"/><rect x="86.3" y="814.07" width="56.6" height="1.92" fill="#9090ff"/><rect x="86.3" y="815.7" width="56.6" height="1.6" fill="#8383ff"/><rect x="142.6" y="63.5" width="56.6" height="1.52" fill="#9f9fff"/><rect x="142.6" y="64.72" width="56.6" height="2" fill="#b0b0ff"/><rect x="142.6" y="66.42" width="56.6" height="2.68" fill="#b3b3ff"/><rect x="142.6" y="68.8" width="56.6" height="4.26" fill="#adadff"/><rect x="142.6" y="72.76" width="56.6" height="1.78" fill="#a8a8ff"/><rect x="142.6" y="74.24" width="56.6" height="4.54" fill="#bdbdff"/><rect x="142.6" y="78.49" width="56.6" height="1.5" fill="#b7b7ff"/><rect x="142.6" y="79.69" width="56.6" height="3.02" fill="#afafff"/><rect x="142.6" y="82.41" width="56.6" height="3.02" fill="#cacaff"/><rect x="142.6" y="85.13" width="56.6" height="3.02" fill="#b0b0ff"/><rect x="142.6" y="87.85" width="56.6" height="1.66" fill="#4949ff"/><rect x="142.6" y="89.21" width="56.6" height="2.1" fill="#8d8dff"/><rect x="142.6" y="91.01" width="56.6" height="2.58" fill="#8989ff"/><rect x="142.6" y="93.29" width="56.6" height="2.76" fill="#9a9aff"/><rect x="142.6" y="95.75" width="56.6" height="1.92" fill="#9d9dff"/><rect x="142.6" y="97.37" width="56.6" height="2.65" fill="#6f6fff"/><rect x="142.6" y="99.72" width="56.6" height="3.39" fill="#6868ff"/><rect x="142.6" y="102.82" width="56.6" height="4.69" fill="#6c6cff"/><rect x="142.6" y="107.21" width="56.6" height="2.71" fill="#7f7fff"/><rect x="142.6" y="109.62" width="56.6" height="1.66" fill="#3030ff"/><rect x="142.6" y="110.98" width="56.6" height="4.12" fill="#9393ff"/><rect x="142.6" y="114.8" width="56.6" height="1.92" fill="#8a8aff"/><rect x="142.6" y="116.42" width="56.6" height="3.02" fill="#c9c9ff"/><rect x="142.6" y="119.14" width="56.6" height="4.39" fill="#d6d6ff"/><rect x="142.6" y="123.23" width="56.6" height="2.31" fill="#d0d0ff"/><rect x="142.6" y="125.24" width="56.6" height="1.8" fill="#cbcbff"/><rect x="142.6" y="126.74" width="56.6" height="3.58" fill="#d6d6ff"/><rect x="142.6" y="130.03" width="56.6" height="1.81" fill="#9090ff"/><rect x="142.6" y="131.54" width="56.6" height="2.87" fill="#9c9cff"/><rect x="142.6" y="134.11" width="56.6" height="2.35" fill="#afafff"/><rect x="142.6" y="136.16" width="56.6" height="5.05" fill="#b8b8ff"/><rect x="142.6" y="140.91" width="56.6" height="2.58" fill="#a3a3ff"/><rect x="142.6" y="143.19" width="56.6" height="2.1" fill="#9999ff"/><rect x="142.6" y="144.99" width="56.6" height="3.9" fill="#b3b3ff"/><rect x="142.6" y="148.59" width="56.6" height="2.14" fill="#b8b8ff"/><rect x="142.6" y="150.44" width="56.6" height="2.04" fill="#9f9fff"/><rect x="142.6" y="152.18" width="56.6" height="5.09" fill="#8d8dff"/><rect x="142.6" y="156.97" width="56.6" height="0.33" fill="#8787ff"/><rect x="142.6" y="157" width="56.6" height="3.02" fill="#c0c0ff"/><rect x="142.6" y="159.72" width="56.6" height="4.38" fill="#aeaeff"/><rect x="142.6" y="163.8" width="56.6" height="1.88" fill="#d1d1ff"/><rect x="142.6" y="165.38" width="56.6" height="2.81" fill="#c5c5ff"/><rect x="142.6" y="167.88" width="56.6" height="3.3" fill="#6a6aff"/><rect x="142.6" y="170.89" width="56.6" height="1.38" fill="#5a5aff"/><rect x="142.6" y="171.97" width="56.6" height="3.02" fill="#fcfcff"/><rect x="142.6" y="174.69" width="56.6" height="3.39" fill="#d5d5ff"/><rect x="142.6" y="177.78" width="56.6" height="2.65" fill="#c4c4ff"/><rect x="142.6" y="180.13" width="56.6" height="2.85" fill="#a7a7ff"/><rect x="142.6" y="182.67" width="56.6" height="1.84" fill="#afafff"/><rect x="142.6" y="184.21" width="56.6" height="3.79" fill="#c6c6ff"/><rect x="142.6" y="187.7" width="56.6" height="3.62" fill="#c0c0ff"/><rect x="142.6" y="191.01" width="56.6" height="4.12" fill="#d0d0ff"/><rect x="142.6" y="194.83" width="56.6" height="3.19" fill="#d2d2ff"/><rect x="142.6" y="197.72" width="56.6" height="4.48" fill="#d5d5ff"/><rect x="142.6" y="201.9" width="56.6" height="2.7" fill="#a2a2ff"/><rect x="142.6" y="204.3" width="56.6" height="1.98" fill="#9f9fff"/><rect x="142.6" y="205.98" width="56.6" height="2.27" fill="#c2c2ff"/><rect x="142.6" y="207.95" width="56.6" height="2.54" fill="#c1c1ff"/><rect x="142.6" y="210.19" width="56.6" height="1.53" fill="#d1d1ff"/><rect x="142.6" y="211.42" width="56.6" height="2.78" fill="#a6a6ff"/><rect x="142.6" y="213.91" width="56.6" height="1.9" fill="#b5b5ff"/><rect x="142.6" y="215.5" width="56.6" height="2.11" fill="#d9d9ff"/><rect x="142.6" y="217.31" width="56.6" height="3.94" fill="#d3d3ff"/><rect x="142.6" y="220.95" width="56.6" height="4.75" fill="#e7e7ff"/><rect x="142.6" y="225.4" width="56.6" height="2.65" fill="#d3d3ff"/><rect x="142.6" y="227.75" width="56.6" height="3.02" fill="#eeeeff"/><rect x="142.6" y="230.47" width="56.6" height="2.42" fill="#8a8aff"/><rect x="142.6" y="232.59" width="56.6" height="2.26" fill="#9797ff"/><rect x="142.6" y="234.55" width="56.6" height="4.17" fill="#c8c8ff"/><rect x="142.6" y="238.42" width="56.6" height="3.23" fill="#b8b8ff"/><rect x="142.6" y="241.35" width="56.6" height="3.19" fill="#d4d4ff"/><rect x="142.6" y="244.24" width="56.6" height="1.49" fill="#ccccff"/><rect x="142.6" y="245.44" width="56.6" height="4.02" fill="#7979ff"/><rect x="142.6" y="249.16" width="56.6" height="3.11" fill="#7474ff"/><rect x="142.6" y="251.97" width="56.6" height="0.32" fill="#9393ff"/><rect x="142.6" y="252" width="56.6" height="3.06" fill="#acacff"/><rect x="142.6" y="254.76" width="56.6" height="2.98" fill="#babaff"/><rect x="142.6" y="257.44" width="56.6" height="4.12" fill="#b2b2ff"/><rect x="142.6" y="261.26" width="56.6" height="4.64" fill="#a6a6ff"/><rect x="142.6" y="265.61" width="56.6" height="3.72" fill="#bebeff"/><rect x="142.6" y="269.03" width="56.6" height="3.68" fill="#c9c9ff"/><rect x="142.6" y="272.41" width="56.6" height="1.65" fill="#b7b7ff"/><rect x="142.6" y="273.77" width="56.6" height="3.94" fill="#f9f9ff"/><rect x="142.6" y="277.41" width="56.6" height="3.69" fill="#f1f1ff"/><rect x="142.6" y="280.8" width="56.6" height="2.8" fill="#fbfbff"/><rect x="142.6" y="283.29" width="56.6" height="3.66" fill="#acacff"/><rect x="142.6" y="286.66" width="56.6" height="5.1" fill="#c0c0ff"/><rect x="142.6" y="291.46" width="56.6" height="2.35" fill="#bdbdff"/><rect x="142.6" y="293.5" width="56.6" height="2.97" fill="#b8b8ff"/><rect x="142.6" y="296.17" width="56.6" height="2.39" fill="#c9c9ff"/><rect x="142.6" y="298.26" width="56.6" height="3.02" fill="#9b9bff"/><rect x="142.6" y="300.98" width="56.6" height="2.28" fill="#8484ff"/><rect x="142.6" y="302.96" width="56.6" height="3.76" fill="#6868ff"/><rect x="142.6" y="306.42" width="56.6" height="2.1" fill="#adadff"/><rect x="142.6" y="308.23" width="56.6" height="3.94" fill="#b3b3ff"/><rect x="142.6" y="311.86" width="56.6" height="3.34" fill="#babaff"/><rect x="142.6" y="314.9" width="56.6" height="2.71" fill="#b8b8ff"/><rect x="142.6" y="317.31" width="56.6" height="3.7" fill="#8686ff"/><rect x="142.6" y="320.71" width="56.6" height="3.85" fill="#c4c4ff"/><rect x="142.6" y="324.26" width="56.6" height="2.98" fill="#c7c7ff"/><rect x="142.6" y="326.94" width="56.6" height="5.63" fill="#c1c1ff"/><rect x="142.6" y="332.27" width="56.6" height="3.02" fill="#a3a3ff"/><rect x="142.6" y="334.99" width="56.6" height="3" fill="#c9c9ff"/><rect x="142.6" y="337.69" width="56.6" height="1.84" fill="#bdbdff"/><rect x="142.6" y="339.23" width="56.6" height="1.5" fill="#cbcbff"/><rect x="142.6" y="340.44" width="56.6" height="2.86" fill="#d4d4ff"/><rect x="142.6" y="342.99" width="56.6" height="4.27" fill="#dcdcff"/><rect x="142.6" y="346.97" width="56.6" height="0.33" fill="#dcdcff"/><rect x="142.6" y="347" width="56.6" height="4.2" fill="#d3d3ff"/><rect x="142.6" y="350.9" width="56.6" height="2.98" fill="#d6d6ff"/><rect x="142.6" y="353.58" width="56.6" height="1.88" fill="#dadaff"/><rect x="142.6" y="355.16" width="56.6" height="4.23" fill="#b1b1ff"/><rect x="142.6" y="359.09" width="56.6" height="1.81" fill="#b0b0ff"/><rect x="142.6" y="360.61" width="56.6" height="2.48" fill="#b3b3ff"/><rect x="142.6" y="362.78" width="56.6" height="3.56" fill="#a8a8ff"/><rect x="142.6" y="366.05" width="56.6" height="4.26" fill="#d9d9ff"/><rect x="142.6" y="370" width="56.6" height="2.68" fill="#cacaff"/><rect x="142.6" y="372.39" width="56.6" height="2.12" fill="#e2e2ff"/><rect x="142.6" y="374.21" width="56.6" height="2.86" fill="#d4d4ff"/><rect x="142.6" y="376.78" width="56.6" height="4.35" fill="#c5c5ff"/><rect x="142.6" y="380.83" width="56.6" height="1.85" fill="#d0d0ff"/><rect x="142.6" y="382.37" width="56.6" height="3.08" fill="#b8b8ff"/><rect x="142.6" y="385.15" width="56.6" height="2.96" fill="#b9b9ff"/><rect x="142.6" y="387.82" width="56.6" height="3.02" fill="#e3e3ff"/><rect x="142.6" y="390.54" width="56.6" height="3.24" fill="#c1c1ff"/><rect x="142.6" y="393.48" width="56.6" height="2.8" fill="#afafff"/><rect x="142.6" y="395.98" width="56.6" height="2.89" fill="#bbbbff"/><rect x="142.6" y="398.57" width="56.6" height="4.59" fill="#c8c8ff"/><rect x="142.6" y="402.85" width="56.6" height="4.31" fill="#c4c4ff"/><rect x="142.6" y="406.86" width="56.6" height="3.02" fill="#3a3aff"/><rect x="142.6" y="409.59" width="56.6" height="4.29" fill="#b3b3ff"/><rect x="142.6" y="413.58" width="56.6" height="1.75" fill="#babaff"/><rect x="142.6" y="415.03" width="56.6" height="4.66" fill="#aaaaff"/><rect x="142.6" y="419.38" width="56.6" height="1.39" fill="#aaaaff"/><rect x="142.6" y="420.47" width="56.6" height="2.23" fill="#cbcbff"/><rect x="142.6" y="422.4" width="56.6" height="1.77" fill="#c8c8ff"/><rect x="142.6" y="423.87" width="56.6" height="2.26" fill="#3e3eff"/><rect x="142.6" y="425.83" width="56.6" height="4.51" fill="#4848ff"/><rect x="142.6" y="430.04" width="56.6" height="4.47" fill="#4141ff"/><rect x="142.6" y="434.21" width="56.6" height="3.63" fill="#4a4aff"/><rect x="142.6" y="437.54" width="56.6" height="4.73" fill="#3838ff"/><rect x="142.6" y="441.97" width="56.6" height="0.32" fill="#3c3cff"/><rect x="142.6" y="442" width="56.6" height="3.02" fill="#4f4fff"/><rect x="142.6" y="444.72" width="56.6" height="3.39" fill="#3838ff"/><rect x="142.6" y="447.81" width="56.6" height="5.37" fill="#2e2eff"/><rect x="142.6" y="452.88" width="56.6" height="3.47" fill="#4646ff"/><rect x="142.6" y="456.05" width="56.6" height="2.22" fill="#4e4eff"/><rect x="142.6" y="457.97" width="56.6" height="3.28" fill="#5151ff"/><rect x="142.6" y="460.95" width="56.6" height="2.23" fill="#4b4bff"/><rect x="142.6" y="462.88" width="56.6" height="3.91" fill="#3a3aff"/><rect x="142.6" y="466.49" width="56.6" height="4.39" fill="#1c1cff"/><rect x="142.6" y="470.58" width="56.6" height="1.82" fill="#2222ff"/><rect x="142.6" y="472.1" width="56.6" height="3.49" fill="#1313ff"/><rect x="142.6" y="475.29" width="56.6" height="3.8" fill="#2222ff"/><rect x="142.6" y="478.78" width="56.6" height="1.61" fill="#1414ff"/><rect x="142.6" y="480.1" width="56.6" height="4.68" fill="#1b1bff"/><rect x="142.6" y="484.48" width="56.6" height="2.72" fill="#1515ff"/><rect x="142.6" y="486.9" width="56.6" height="1.89" fill="#2d2dff"/><rect x="142.6" y="488.48" width="56.6" height="4.59" fill="#2f2fff"/><rect x="142.6" y="492.78" width="56.6" height="2.79" fill="#4444ff"/><rect x="142.6" y="495.27" width="56.6" height="1.45" fill="#3737ff"/><rect x="142.6" y="496.42" width="56.6" height="4.49" fill="#3a3aff"/><rect x="142.6" y="500.61" width="56.6" height="3.68" fill="#2e2eff"/><rect x="142.6" y="503.99" width="56.6" height="2.82" fill="#3131ff"/><rect x="142.6" y="506.51" width="56.6" height="2.46" fill="#2323ff"/><rect x="142.6" y="508.67" width="56.6" height="3.38" fill="#8f8fff"/><rect x="142.6" y="511.74" width="56.6" height="1.31" fill="#8787ff"/><rect x="142.6" y="512.75" width="56.6" height="3.07" fill="#4343ff"/><rect x="142.6" y="515.52" width="56.6" height="2.98" fill="#4f4fff"/><rect x="142.6" y="518.19" width="56.6" height="4.28" fill="#2f2fff"/><rect x="142.6" y="522.17" width="56.6" height="1.76" fill="#3f3fff"/><rect x="142.6" y="523.63" width="56.6" height="3.32" fill="#6363ff"/><rect x="142.6" y="526.65" width="56.6" height="2.72" fill="#5353ff"/><rect x="142.6" y="529.07" width="56.6" height="2.79" fill="#4343ff"/><rect x="142.6" y="531.57" width="56.6" height="3.56" fill="#4e4eff"/><rect x="142.6" y="534.83" width="56.6" height="2.44" fill="#4747ff"/><rect x="142.6" y="536.97" width="56.6" height="0.33" fill="#5252ff"/><rect x="142.6" y="537" width="56.6" height="3.02" fill="#3636ff"/><rect x="142.6" y="539.72" width="56.6" height="2.7" fill="#7070ff"/><rect x="142.6" y="542.12" width="56.6" height="1.82" fill="#7a7aff"/><rect x="142.6" y="543.64" width="56.6" height="1.82" fill="#8686ff"/><rect x="142.6" y="545.16" width="56.6" height="3.77" fill="#8585ff"/><rect x="142.6" y="548.64" width="56.6" height="2.27" fill="#6a6aff"/><rect x="142.6" y="550.61" width="56.6" height="3.65" fill="#6767ff"/><rect x="142.6" y="553.96" width="56.6" height="2.39" fill="#6666ff"/><rect x="142.6" y="556.05" width="56.6" height="3.84" fill="#5858ff"/><rect x="142.6" y="559.59" width="56.6" height="3.17" fill="#6363ff"/><rect x="142.6" y="562.46" width="56.6" height="2.05" fill="#5a5aff"/><rect x="142.6" y="564.21" width="56.6" height="1.91" fill="#7575ff"/><rect x="142.6" y="565.82" width="56.6" height="4.13" fill="#7e7eff"/><rect x="142.6" y="569.65" width="56.6" height="2.91" fill="#3f3fff"/><rect x="142.6" y="572.26" width="56.6" height="4.27" fill="#4a4aff"/><rect x="142.6" y="576.23" width="56.6" height="2.57" fill="#3a3aff"/><rect x="142.6" y="578.5" width="56.6" height="3.7" fill="#3f3fff"/><rect x="142.6" y="581.9" width="56.6" height="3.09" fill="#5959ff"/><rect x="142.6" y="584.69" width="56.6" height="2.95" fill="#5858ff"/><rect x="142.6" y="587.34" width="56.6" height="3.5" fill="#7070ff"/><rect x="142.6" y="590.54" width="56.6" height="2.54" fill="#7f7fff"/><rect x="142.6" y="592.78" width="56.6" height="3.53" fill="#a8a8ff"/><rect x="142.6" y="596.01" width="56.6" height="3.88" fill="#9a9aff"/><rect x="142.6" y="599.59" width="56.6" height="2.96" fill="#8e8eff"/><rect x="142.6" y="602.25" width="56.6" height="1.72" fill="#a7a7ff"/><rect x="142.6" y="603.67" width="56.6" height="3.23" fill="#9f9fff"/><rect x="142.6" y="606.59" width="56.6" height="2.82" fill="#b5b5ff"/><rect x="142.6" y="609.11" width="56.6" height="2.44" fill="#a4a4ff"/><rect x="142.6" y="611.25" width="56.6" height="2.24" fill="#9d9dff"/><rect x="142.6" y="613.19" width="56.6" height="3.85" fill="#aaaaff"/><rect x="142.6" y="616.74" width="56.6" height="2.19" fill="#aeaeff"/><rect x="142.6" y="618.63" width="56.6" height="4.41" fill="#5454ff"/><rect x="142.6" y="622.74" width="56.6" height="2.99" fill="#6565ff"/><rect x="142.6" y="625.44" width="56.6" height="2.53" fill="#8f8fff"/><rect x="142.6" y="627.66" width="56.6" height="4.6" fill="#8f8fff"/><rect x="142.6" y="631.97" width="56.6" height="0.33" fill="#8282ff"/><rect x="142.6" y="632" width="56.6" height="3.94" fill="#9898ff"/><rect x="142.6" y="635.64" width="56.6" height="2.1" fill="#8181ff"/><rect x="142.6" y="637.44" width="56.6" height="3.69" fill="#6f6fff"/><rect x="142.6" y="640.83" width="56.6" height="2.36" fill="#6767ff"/><rect x="142.6" y="642.88" width="56.6" height="2.56" fill="#9d9dff"/><rect x="142.6" y="645.15" width="56.6" height="1.83" fill="#8a8aff"/><rect x="142.6" y="646.68" width="56.6" height="1.95" fill="#8383ff"/><rect x="142.6" y="648.33" width="56.6" height="2.04" fill="#3838ff"/><rect x="142.6" y="650.07" width="56.6" height="2.73" fill="#4646ff"/><rect x="142.6" y="652.5" width="56.6" height="2.93" fill="#4141ff"/><rect x="142.6" y="655.13" width="56.6" height="3.26" fill="#b3b3ff"/><rect x="142.6" y="658.09" width="56.6" height="3.52" fill="#adadff"/><rect x="142.6" y="661.31" width="56.6" height="2.28" fill="#a8a8ff"/><rect x="142.6" y="663.29" width="56.6" height="4.19" fill="#9797ff"/><rect x="142.6" y="667.18" width="56.6" height="2.89" fill="#9393ff"/><rect x="142.6" y="669.77" width="56.6" height="3.34" fill="#9191ff"/><rect x="142.6" y="672.82" width="56.6" height="2.96" fill="#9393ff"/><rect x="142.6" y="675.47" width="56.6" height="3.08" fill="#7676ff"/><rect x="142.6" y="678.26" width="56.6" height="3.5" fill="#5454ff"/><rect x="142.6" y="681.46" width="56.6" height="4.72" fill="#5858ff"/><rect x="142.6" y="685.88" width="56.6" height="3.56" fill="#5959ff"/><rect x="142.6" y="689.14" width="56.6" height="3.02" fill="#8686ff"/><rect x="142.6" y="691.86" width="56.6" height="4.73" fill="#4d4dff"/><rect x="142.6" y="696.3" width="56.6" height="2.73" fill="#3b3bff"/><rect x="142.6" y="698.72" width="56.6" height="3.09" fill="#4e4eff"/><rect x="142.6" y="701.51" width="56.6" height="1.54" fill="#4141ff"/><rect x="142.6" y="702.75" width="56.6" height="3.61" fill="#9c9cff"/><rect x="142.6" y="706.05" width="56.6" height="2.44" fill="#8383ff"/><rect x="142.6" y="708.19" width="56.6" height="1.81" fill="#9b9bff"/><rect x="142.6" y="709.7" width="56.6" height="3.56" fill="#a6a6ff"/><rect x="142.6" y="712.96" width="56.6" height="3.7" fill="#9e9eff"/><rect x="142.6" y="716.35" width="56.6" height="4.3" fill="#a8a8ff"/><rect x="142.6" y="720.35" width="56.6" height="4.24" fill="#b3b3ff"/><rect x="142.6" y="724.29" width="56.6" height="2.98" fill="#a0a0ff"/><rect x="142.6" y="726.97" width="56.6" height="0.33" fill="#bdbdff"/><rect x="142.6" y="727" width="56.6" height="4.38" fill="#c6c6ff"/><rect x="142.6" y="731.08" width="56.6" height="2.84" fill="#c3c3ff"/><rect x="142.6" y="733.62" width="56.6" height="1.84" fill="#bfbfff"/><rect x="142.6" y="735.16" width="56.6" height="2.4" fill="#5555ff"/><rect x="142.6" y="737.26" width="56.6" height="2.5" fill="#3e3eff"/><rect x="142.6" y="739.47" width="56.6" height="1.44" fill="#5050ff"/><rect x="142.6" y="740.61" width="56.6" height="2.42" fill="#5959ff"/><rect x="142.6" y="742.73" width="56.6" height="2.56" fill="#6363ff"/><rect x="142.6" y="744.99" width="56.6" height="1.36" fill="#5252ff"/><rect x="142.6" y="746.05" width="56.6" height="2.06" fill="#8585ff"/><rect x="142.6" y="747.81" width="56.6" height="2.5" fill="#7070ff"/><rect x="142.6" y="750.01" width="56.6" height="1.78" fill="#9090ff"/><rect x="142.6" y="751.49" width="56.6" height="3.02" fill="#acacff"/><rect x="142.6" y="754.21" width="56.6" height="3.23" fill="#5e5eff"/><rect x="142.6" y="757.14" width="56.6" height="2.38" fill="#6060ff"/><rect x="142.6" y="759.22" width="56.6" height="2.34" fill="#6060ff"/><rect x="142.6" y="761.26" width="56.6" height="4.14" fill="#5a5aff"/><rect x="142.6" y="765.1" width="56.6" height="3.01" fill="#b3b3ff"/><rect x="142.6" y="767.8" width="56.6" height="1.93" fill="#b8b8ff"/><rect x="142.6" y="769.44" width="56.6" height="4.12" fill="#b5b5ff"/><rect x="142.6" y="773.26" width="56.6" height="3.7" fill="#9f9fff"/><rect x="142.6" y="776.66" width="56.6" height="2.34" fill="#a3a3ff"/><rect x="142.6" y="778.7" width="56.6" height="2.83" fill="#b5b5ff"/><rect x="142.6" y="781.24" width="56.6" height="3.21" fill="#adadff"/><rect x="142.6" y="784.14" width="56.6" height="4.77" fill="#7272ff"/><rect x="142.6" y="788.61" width="56.6" height="2.63" fill="#6565ff"/><rect x="142.6" y="790.95" width="56.6" height="2.58" fill="#6464ff"/><rect x="142.6" y="793.23" width="56.6" height="4.82" fill="#4e4eff"/><rect x="142.6" y="797.75" width="56.6" height="4.1" fill="#5252ff"/><rect x="142.6" y="801.55" width="56.6" height="4.66" fill="#4e4eff"/><rect x="142.6" y="805.91" width="56.6" height="1.91" fill="#2929ff"/><rect x="142.6" y="807.53" width="56.6" height="2.4" fill="#2c2cff"/><rect x="142.6" y="809.63" width="56.6" height="1.95" fill="#2e2eff"/><rect x="142.6" y="811.28" width="56.6" height="3.47" fill="#3232ff"/><rect x="142.6" y="814.45" width="56.6" height="2.85" fill="#2323ff"/><rect x="198.9" y="63.5" width="56.6" height="4.53" fill="#0404ff"/><rect x="198.9" y="67.73" width="56.6" height="2.99" fill="#0202ff"/><rect x="198.9" y="70.42" width="56.6" height="2.16" fill="#0202ff"/><rect x="198.9" y="72.28" width="56.6" height="3.49" fill="#0101ff"/><rect x="198.9" y="75.48" width="56.6" height="3.72" fill="#0404ff"/><rect x="198.9" y="78.9" width="56.6" height="2.98" fill="#0101ff"/><rect x="198.9" y="81.58" width="56.6" height="3.15" fill="#0404ff"/><rect x="198.9" y="84.42" width="56.6" height="3.73" fill="#0707ff"/><rect x="198.9" y="87.85" width="56.6" height="1.66" fill="#2424ff"/><rect x="198.9" y="89.21" width="56.6" height="2.86" fill="#0707ff"/><rect x="198.9" y="91.77" width="56.6" height="4.51" fill="#1515ff"/><rect x="198.9" y="95.98" width="56.6" height="1.94" fill="#0000ff"/><rect x="198.9" y="97.62" width="56.6" height="4.16" fill="#0202ff"/><rect x="198.9" y="101.48" width="56.6" height="4.36" fill="#0000ff"/><rect x="198.9" y="105.54" width="56.6" height="1.66" fill="#4343ff"/><rect x="198.9" y="106.9" width="56.6" height="2.34" fill="#2929ff"/><rect x="198.9" y="108.94" width="56.6" height="2.34" fill="#3535ff"/><rect x="198.9" y="110.98" width="56.6" height="4.07" fill="#0404ff"/><rect x="198.9" y="114.75" width="56.6" height="2.12" fill="#0101ff"/><rect x="198.9" y="116.57" width="56.6" height="2.17" fill="#0202ff"/><rect x="198.9" y="118.44" width="56.6" height="3.24" fill="#0101ff"/><rect x="198.9" y="121.39" width="56.6" height="2.23" fill="#0202ff"/><rect x="198.9" y="123.32" width="56.6" height="2.25" fill="#0505ff"/><rect x="198.9" y="125.27" width="56.6" height="1.66" fill="#1212ff"/><rect x="198.9" y="126.63" width="56.6" height="1.91" fill="#0202ff"/><rect x="198.9" y="128.23" width="56.6" height="4.6" fill="#0101ff"/><rect x="198.9" y="132.54" width="56.6" height="4.4" fill="#0101ff"/><rect x="198.9" y="136.64" width="56.6" height="3.14" fill="#0101ff"/><rect x="198.9" y="139.48" width="56.6" height="2.09" fill="#0505ff"/><rect x="198.9" y="141.27" width="56.6" height="3.69" fill="#0202ff"/><rect x="198.9" y="144.65" width="56.6" height="3.16" fill="#0303ff"/><rect x="198.9" y="147.51" width="56.6" height="3.23" fill="#0505ff"/><rect x="198.9" y="150.44" width="56.6" height="3.68" fill="#0101ff"/><rect x="198.9" y="153.83" width="56.6" height="1.97" fill="#0202ff"/><rect x="198.9" y="155.5" width="56.6" height="1.77" fill="#0202ff"/><rect x="198.9" y="156.97" width="56.6" height="0.33" fill="#0101ff"/><rect x="198.9" y="157" width="56.6" height="2.6" fill="#0101ff"/><rect x="198.9" y="159.3" width="56.6" height="2.61" fill="#0101ff"/><rect x="198.9" y="161.61" width="56.6" height="4.32" fill="#0101ff"/><rect x="198.9" y="165.63" width="56.6" height="3.91" fill="#0202ff"/><rect x="198.9" y="169.24" width="56.6" height="3.02" fill="#1212ff"/><rect x="198.9" y="171.97" width="56.6" height="4.74" fill="#6f6fff"/><rect x="198.9" y="176.4" width="56.6" height="1.97" fill="#7d7dff"/><rect x="198.9" y="178.07" width="56.6" height="2.36" fill="#6868ff"/><rect x="198.9" y="180.13" width="56.6" height="3.23" fill="#8c8cff"/><rect x="198.9" y="183.06" width="56.6" height="2.4" fill="#9595ff"/><rect x="198.9" y="185.17" width="56.6" height="3.43" fill="#b1b1ff"/><rect x="198.9" y="188.29" width="56.6" height="4.58" fill="#6f6fff"/><rect x="198.9" y="192.57" width="56.6" height="2.09" fill="#6c6cff"/><rect x="198.9" y="194.36" width="56.6" height="1.97" fill="#8686ff"/><rect x="198.9" y="196.03" width="56.6" height="3.98" fill="#6a6aff"/><rect x="198.9" y="199.71" width="56.6" height="2.49" fill="#8c8cff"/><rect x="198.9" y="201.9" width="56.6" height="4.38" fill="#2828ff"/><rect x="198.9" y="205.98" width="56.6" height="1.81" fill="#4b4bff"/><rect x="198.9" y="207.49" width="56.6" height="4.24" fill="#4141ff"/><rect x="198.9" y="211.42" width="56.6" height="3.11" fill="#3838ff"/><rect x="198.9" y="214.23" width="56.6" height="4.54" fill="#3b3bff"/><rect x="198.9" y="218.46" width="56.6" height="2.78" fill="#4545ff"/><rect x="198.9" y="220.95" width="56.6" height="2.34" fill="#5757ff"/><rect x="198.9" y="222.99" width="56.6" height="2.39" fill="#4545ff"/><rect x="198.9" y="225.08" width="56.6" height="2.97" fill="#6161ff"/><rect x="198.9" y="227.75" width="56.6" height="3.29" fill="#6a6aff"/><rect x="198.9" y="230.73" width="56.6" height="1.4" fill="#6767ff"/><rect x="198.9" y="231.83" width="56.6" height="3.92" fill="#2929ff"/><rect x="198.9" y="235.45" width="56.6" height="2.12" fill="#1717ff"/><rect x="198.9" y="237.27" width="56.6" height="2" fill="#4444ff"/><rect x="198.9" y="238.97" width="56.6" height="4" fill="#3a3aff"/><rect x="198.9" y="242.67" width="56.6" height="1.97" fill="#4f4fff"/><rect x="198.9" y="244.33" width="56.6" height="1.4" fill="#3d3dff"/><rect x="198.9" y="245.44" width="56.6" height="4.39" fill="#7474ff"/><rect x="198.9" y="249.53" width="56.6" height="2.74" fill="#7979ff"/><rect x="198.9" y="251.97" width="56.6" height="0.32" fill="#7373ff"/><rect x="198.9" y="252" width="56.6" height="4.42" fill="#7171ff"/><rect x="198.9" y="256.12" width="56.6" height="1.63" fill="#7878ff"/><rect x="198.9" y="257.44" width="56.6" height="3.02" fill="#6868ff"/><rect x="198.9" y="260.16" width="56.6" height="3.58" fill="#9696ff"/><rect x="198.9" y="263.45" width="56.6" height="2.46" fill="#8383ff"/><rect x="198.9" y="265.61" width="56.6" height="3.35" fill="#0707ff"/><rect x="198.9" y="268.65" width="56.6" height="2.16" fill="#0404ff"/><rect x="198.9" y="270.51" width="56.6" height="4.4" fill="#0000ff"/><rect x="198.9" y="274.61" width="56.6" height="2.76" fill="#0606ff"/><rect x="198.9" y="277.07" width="56.6" height="4.05" fill="#0000ff"/><rect x="198.9" y="280.83" width="56.6" height="1.98" fill="#1a1aff"/><rect x="198.9" y="282.51" width="56.6" height="2.44" fill="#0000ff"/><rect x="198.9" y="284.65" width="56.6" height="3.34" fill="#0202ff"/><rect x="198.9" y="287.69" width="56.6" height="1.86" fill="#0c0cff"/><rect x="198.9" y="289.26" width="56.6" height="4.7" fill="#0f0fff"/><rect x="198.9" y="293.66" width="56.6" height="2.11" fill="#1414ff"/><rect x="198.9" y="295.47" width="56.6" height="1.73" fill="#0f0fff"/><rect x="198.9" y="296.9" width="56.6" height="3.02" fill="#4545ff"/><rect x="198.9" y="299.62" width="56.6" height="4.38" fill="#1d1dff"/><rect x="198.9" y="303.7" width="56.6" height="3.6" fill="#4949ff"/><rect x="198.9" y="307" width="56.6" height="2.44" fill="#3838ff"/><rect x="198.9" y="309.14" width="56.6" height="2.11" fill="#5353ff"/><rect x="198.9" y="310.95" width="56.6" height="3.93" fill="#5454ff"/><rect x="198.9" y="314.59" width="56.6" height="2.17" fill="#2828ff"/><rect x="198.9" y="316.45" width="56.6" height="1.83" fill="#2222ff"/><rect x="198.9" y="317.99" width="56.6" height="2.17" fill="#0000ff"/><rect x="198.9" y="319.85" width="56.6" height="3.02" fill="#0303ff"/><rect x="198.9" y="322.57" width="56.6" height="4.38" fill="#0303ff"/><rect x="198.9" y="326.65" width="56.6" height="2.24" fill="#0404ff"/><rect x="198.9" y="328.59" width="56.6" height="2.29" fill="#0202ff"/><rect x="198.9" y="330.59" width="56.6" height="4.28" fill="#0303ff"/><rect x="198.9" y="334.57" width="56.6" height="3.06" fill="#0101ff"/><rect x="198.9" y="337.33" width="56.6" height="2.73" fill="#0303ff"/><rect x="198.9" y="339.76" width="56.6" height="1.66" fill="#1b1bff"/><rect x="198.9" y="341.12" width="56.6" height="4.13" fill="#0101ff"/><rect x="198.9" y="344.95" width="56.6" height="2.32" fill="#0202ff"/><rect x="198.9" y="346.97" width="56.6" height="0.33" fill="#2e2eff"/><rect x="198.9" y="347" width="56.6" height="3.02" fill="#2828ff"/><rect x="198.9" y="349.72" width="56.6" height="4.25" fill="#1e1eff"/><rect x="198.9" y="353.67" width="56.6" height="1.8" fill="#1a1aff"/><rect x="198.9" y="355.16" width="56.6" height="4.67" fill="#1e1eff"/><rect x="198.9" y="359.54" width="56.6" height="3.07" fill="#1414ff"/><rect x="198.9" y="362.3" width="56.6" height="4.04" fill="#0f0fff"/><rect x="198.9" y="366.05" width="56.6" height="2.01" fill="#5e5eff"/><rect x="198.9" y="367.76" width="56.6" height="3.1" fill="#5353ff"/><rect x="198.9" y="370.55" width="56.6" height="2.22" fill="#5555ff"/><rect x="198.9" y="372.47" width="56.6" height="4.71" fill="#5959ff"/><rect x="198.9" y="376.88" width="56.6" height="3.07" fill="#3e3eff"/><rect x="198.9" y="379.65" width="56.6" height="4.23" fill="#7373ff"/><rect x="198.9" y="383.58" width="56.6" height="1.9" fill="#5555ff"/><rect x="198.9" y="385.18" width="56.6" height="2.93" fill="#6262ff"/><rect x="198.9" y="387.82" width="56.6" height="2.62" fill="#9d9dff"/><rect x="198.9" y="390.14" width="56.6" height="3.43" fill="#9a9aff"/><rect x="198.9" y="393.26" width="56.6" height="1.66" fill="#8787ff"/><rect x="198.9" y="394.62" width="56.6" height="3.36" fill="#4d4dff"/><rect x="198.9" y="397.68" width="56.6" height="2.66" fill="#6d6dff"/><rect x="198.9" y="400.04" width="56.6" height="1.68" fill="#6060ff"/><rect x="198.9" y="401.42" width="56.6" height="3.58" fill="#5151ff"/><rect x="198.9" y="404.7" width="56.6" height="2.46" fill="#4d4dff"/><rect x="198.9" y="406.86" width="56.6" height="3.2" fill="#7171ff"/><rect x="198.9" y="409.76" width="56.6" height="1.48" fill="#7474ff"/><rect x="198.9" y="410.95" width="56.6" height="2.19" fill="#4b4bff"/><rect x="198.9" y="412.84" width="56.6" height="2.68" fill="#4040ff"/><rect x="198.9" y="415.22" width="56.6" height="1.47" fill="#4b4bff"/><rect x="198.9" y="416.39" width="56.6" height="2.06" fill="#0000ff"/><rect x="198.9" y="418.15" width="56.6" height="3.63" fill="#0909ff"/><rect x="198.9" y="421.48" width="56.6" height="2.69" fill="#0a0aff"/><rect x="198.9" y="423.87" width="56.6" height="3.93" fill="#c1c1ff"/><rect x="198.9" y="427.5" width="56.6" height="4.15" fill="#b9b9ff"/><rect x="198.9" y="431.35" width="56.6" height="3.21" fill="#b4b4ff"/><rect x="198.9" y="434.26" width="56.6" height="2.73" fill="#b9b9ff"/><rect x="198.9" y="436.69" width="56.6" height="3.34" fill="#bfbfff"/><rect x="198.9" y="439.73" width="56.6" height="2.54" fill="#b7b7ff"/><rect x="198.9" y="441.97" width="56.6" height="0.32" fill="#a9a9ff"/><rect x="198.9" y="442" width="56.6" height="3.02" fill="#e4e4ff"/><rect x="198.9" y="444.72" width="56.6" height="3.27" fill="#e1e1ff"/><rect x="198.9" y="447.7" width="56.6" height="2.65" fill="#ddddff"/><rect x="198.9" y="450.05" width="56.6" height="3.13" fill="#d4d4ff"/><rect x="198.9" y="452.88" width="56.6" height="2.28" fill="#aeaeff"/><rect x="198.9" y="454.86" width="56.6" height="3.12" fill="#a4a4ff"/><rect x="198.9" y="457.68" width="56.6" height="1.99" fill="#9494ff"/><rect x="198.9" y="459.37" width="56.6" height="4.01" fill="#a3a3ff"/><rect x="198.9" y="463.07" width="56.6" height="2.13" fill="#a0a0ff"/><rect x="198.9" y="464.9" width="56.6" height="3.25" fill="#b5b5ff"/><rect x="198.9" y="467.85" width="56.6" height="2.26" fill="#d0d0ff"/><rect x="198.9" y="469.81" width="56.6" height="2.42" fill="#dcdcff"/><rect x="198.9" y="471.93" width="56.6" height="3.65" fill="#d1d1ff"/><rect x="198.9" y="475.28" width="56.6" height="3.35" fill="#b7b7ff"/><rect x="198.9" y="478.33" width="56.6" height="3.42" fill="#c6c6ff"/><rect x="198.9" y="481.46" width="56.6" height="3.23" fill="#7d7dff"/><rect x="198.9" y="484.38" width="56.6" height="4.15" fill="#8888ff"/><rect x="198.9" y="488.24" width="56.6" height="2.18" fill="#7878ff"/><rect x="198.9" y="490.12" width="56.6" height="4.41" fill="#9f9fff"/><rect x="198.9" y="494.23" width="56.6" height="3.56" fill="#8e8eff"/><rect x="198.9" y="497.49" width="56.6" height="1.95" fill="#9a9aff"/><rect x="198.9" y="499.14" width="56.6" height="3.05" fill="#9999ff"/><rect x="198.9" y="501.9" width="56.6" height="4.15" fill="#a5a5ff"/><rect x="198.9" y="505.75" width="56.6" height="3.22" fill="#9292ff"/><rect x="198.9" y="508.67" width="56.6" height="3.16" fill="#c5c5ff"/><rect x="198.9" y="511.52" width="56.6" height="2.68" fill="#d9d9ff"/><rect x="198.9" y="513.9" width="56.6" height="1.87" fill="#cbcbff"/><rect x="198.9" y="515.47" width="56.6" height="2.77" fill="#eeeeff"/><rect x="198.9" y="517.94" width="56.6" height="1.92" fill="#f8f8ff"/><rect x="198.9" y="519.55" width="56.6" height="3.13" fill="#a1a1ff"/><rect x="198.9" y="522.38" width="56.6" height="2.35" fill="#a8a8ff"/><rect x="198.9" y="524.44" width="56.6" height="3.53" fill="#afafff"/><rect x="198.9" y="527.66" width="56.6" height="1.71" fill="#bdbdff"/><rect x="198.9" y="529.07" width="56.6" height="2.77" fill="#d2d2ff"/><rect x="198.9" y="531.55" width="56.6" height="4.33" fill="#d4d4ff"/><rect x="198.9" y="535.58" width="56.6" height="1.69" fill="#b1b1ff"/><rect x="198.9" y="536.97" width="56.6" height="0.33" fill="#d6d6ff"/><rect x="198.9" y="537" width="56.6" height="1.94" fill="#e2e2ff"/><rect x="198.9" y="538.64" width="56.6" height="1.38" fill="#ccccff"/><rect x="198.9" y="539.72" width="56.6" height="3.02" fill="#d5d5ff"/><rect x="198.9" y="542.44" width="56.6" height="3.42" fill="#ffffff"/><rect x="198.9" y="545.56" width="56.6" height="3.35" fill="#ffffff"/><rect x="198.9" y="548.61" width="56.6" height="2.3" fill="#fbfbff"/><rect x="198.9" y="550.61" width="56.6" height="3.58" fill="#bebeff"/><rect x="198.9" y="553.89" width="56.6" height="3.82" fill="#c6c6ff"/><rect x="198.9" y="557.41" width="56.6" height="3.38" fill="#d0d0ff"/><rect x="198.9" y="560.48" width="56.6" height="2.1" fill="#cdcdff"/><rect x="198.9" y="562.28" width="56.6" height="3.48" fill="#dcdcff"/><rect x="198.9" y="565.46" width="56.6" height="1.77" fill="#e7e7ff"/><rect x="198.9" y="566.93" width="56.6" height="3.26" fill="#7c7cff"/><rect x="198.9" y="569.89" width="56.6" height="3.12" fill="#7676ff"/><rect x="198.9" y="572.71" width="56.6" height="2.68" fill="#7676ff"/><rect x="198.9" y="575.1" width="56.6" height="3.39" fill="#9e9eff"/><rect x="198.9" y="578.19" width="56.6" height="2.75" fill="#9696ff"/><rect x="198.9" y="580.64" width="56.6" height="4.28" fill="#a1a1ff"/><rect x="198.9" y="584.62" width="56.6" height="2.13" fill="#7575ff"/><rect x="198.9" y="586.45" width="56.6" height="2.55" fill="#7979ff"/><rect x="198.9" y="588.7" width="56.6" height="4.77" fill="#b5b5ff"/><rect x="198.9" y="593.17" width="56.6" height="2.63" fill="#c1c1ff"/><rect x="198.9" y="595.5" width="56.6" height="2.67" fill="#adadff"/><rect x="198.9" y="597.87" width="56.6" height="2.01" fill="#a4a4ff"/><rect x="198.9" y="599.59" width="56.6" height="2.35" fill="#b8b8ff"/><rect x="198.9" y="601.63" width="56.6" height="2.33" fill="#b1b1ff"/><rect x="198.9" y="603.67" width="56.6" height="4.78" fill="#6c6cff"/><rect x="198.9" y="608.15" width="56.6" height="2.62" fill="#7b7bff"/><rect x="198.9" y="610.47" width="56.6" height="4.16" fill="#bbbbff"/><rect x="198.9" y="614.33" width="56.6" height="1.88" fill="#b8b8ff"/><rect x="198.9" y="615.91" width="56.6" height="2.71" fill="#c6c6ff"/><rect x="198.9" y="618.32" width="56.6" height="3.33" fill="#babaff"/><rect x="198.9" y="621.35" width="56.6" height="2.39" fill="#8686ff"/><rect x="198.9" y="623.44" width="56.6" height="3.29" fill="#8686ff"/><rect x="198.9" y="626.44" width="56.6" height="3.74" fill="#8b8bff"/><rect x="198.9" y="629.88" width="56.6" height="2.39" fill="#9b9bff"/><rect x="198.9" y="631.97" width="56.6" height="0.33" fill="#8d8dff"/><rect x="198.9" y="632" width="56.6" height="3.02" fill="#d0d0ff"/><rect x="198.9" y="634.72" width="56.6" height="2.12" fill="#b8b8ff"/><rect x="198.9" y="636.54" width="56.6" height="2.1" fill="#b0b0ff"/><rect x="198.9" y="638.34" width="56.6" height="4.84" fill="#b5b5ff"/><rect x="198.9" y="642.88" width="56.6" height="3.02" fill="#f2f2ff"/><rect x="198.9" y="645.61" width="56.6" height="1.84" fill="#fdfdff"/><rect x="198.9" y="647.14" width="56.6" height="4.11" fill="#fbfbff"/><rect x="198.9" y="650.95" width="56.6" height="1.75" fill="#ffffff"/><rect x="198.9" y="652.41" width="56.6" height="2.31" fill="#e2e2ff"/><rect x="198.9" y="654.42" width="56.6" height="5.09" fill="#e7e7ff"/><rect x="198.9" y="659.21" width="56.6" height="3.55" fill="#fbfbff"/><rect x="198.9" y="662.46" width="56.6" height="2.96" fill="#ffffff"/><rect x="198.9" y="665.11" width="56.6" height="1.96" fill="#ffffff"/><rect x="198.9" y="666.78" width="56.6" height="4.98" fill="#fafaff"/><rect x="198.9" y="671.46" width="56.6" height="3.02" fill="#c1c1ff"/><rect x="198.9" y="674.18" width="56.6" height="1.93" fill="#fcfcff"/><rect x="198.9" y="675.81" width="56.6" height="4.59" fill="#ffffff"/><rect x="198.9" y="680.1" width="56.6" height="4.5" fill="#fbfbff"/><rect x="198.9" y="684.3" width="56.6" height="4.25" fill="#fcfcff"/><rect x="198.9" y="688.25" width="56.6" height="4.68" fill="#ffffff"/><rect x="198.9" y="692.63" width="56.6" height="3.29" fill="#ffffff"/><rect x="198.9" y="695.61" width="56.6" height="1.99" fill="#fefeff"/><rect x="198.9" y="697.31" width="56.6" height="3.96" fill="#d6d6ff"/><rect x="198.9" y="700.96" width="56.6" height="2.09" fill="#ddddff"/><rect x="198.9" y="702.75" width="56.6" height="3.25" fill="#ffffff"/><rect x="198.9" y="705.7" width="56.6" height="2.32" fill="#fbfbff"/><rect x="198.9" y="707.72" width="56.6" height="3.49" fill="#ffffff"/><rect x="198.9" y="710.91" width="56.6" height="2.67" fill="#ffffff"/><rect x="198.9" y="713.28" width="56.6" height="3.37" fill="#fafaff"/><rect x="198.9" y="716.35" width="56.6" height="2.96" fill="#ceceff"/><rect x="198.9" y="719.01" width="56.6" height="3.01" fill="#cbcbff"/><rect x="198.9" y="721.72" width="56.6" height="4.28" fill="#c8c8ff"/><rect x="198.9" y="725.7" width="56.6" height="1.57" fill="#c7c7ff"/><rect x="198.9" y="726.97" width="56.6" height="0.33" fill="#bfbfff"/><rect x="198.9" y="727" width="56.6" height="3.02" fill="#b8b8ff"/><rect x="198.9" y="729.72" width="56.6" height="2.82" fill="#d8d8ff"/><rect x="198.9" y="732.25" width="56.6" height="1.86" fill="#d3d3ff"/><rect x="198.9" y="733.8" width="56.6" height="2.61" fill="#fcfcff"/><rect x="198.9" y="736.11" width="56.6" height="4.31" fill="#ffffff"/><rect x="198.9" y="740.12" width="56.6" height="4.31" fill="#ffffff"/><rect x="198.9" y="744.13" width="56.6" height="4.21" fill="#ffffff"/><rect x="198.9" y="748.04" width="56.6" height="2.39" fill="#ffffff"/><rect x="198.9" y="750.13" width="56.6" height="2.93" fill="#b1b1ff"/><rect x="198.9" y="752.76" width="56.6" height="1.75" fill="#a8a8ff"/><rect x="198.9" y="754.21" width="56.6" height="3.31" fill="#f2f2ff"/><rect x="198.9" y="757.23" width="56.6" height="1.37" fill="#fcfcff"/><rect x="198.9" y="758.29" width="56.6" height="3.92" fill="#fefeff"/><rect x="198.9" y="761.91" width="56.6" height="3.48" fill="#ffffff"/><rect x="198.9" y="765.1" width="56.6" height="2.9" fill="#b8b8ff"/><rect x="198.9" y="767.7" width="56.6" height="2.44" fill="#c6c6ff"/><rect x="198.9" y="769.84" width="56.6" height="2.36" fill="#c1c1ff"/><rect x="198.9" y="771.9" width="56.6" height="3.43" fill="#ffffff"/><rect x="198.9" y="775.03" width="56.6" height="2.61" fill="#ffffff"/><rect x="198.9" y="777.34" width="56.6" height="3.77" fill="#f9f9ff"/><rect x="198.9" y="780.81" width="56.6" height="3.5" fill="#fdfdff"/><rect x="198.9" y="784.01" width="56.6" height="2.06" fill="#ffffff"/><rect x="198.9" y="785.77" width="56.6" height="2.33" fill="#ffffff"/><rect x="198.9" y="787.8" width="56.6" height="3.79" fill="#fbfbff"/><rect x="198.9" y="791.29" width="56.6" height="2.13" fill="#fafaff"/><rect x="198.9" y="793.12" width="56.6" height="3.3" fill="#fdfdff"/><rect x="198.9" y="796.12" width="56.6" height="2.69" fill="#ffffff"/><rect x="198.9" y="798.51" width="56.6" height="2.48" fill="#ffffff"/><rect x="198.9" y="800.69" width="56.6" height="2.18" fill="#fefeff"/><rect x="198.9" y="802.57" width="56.6" height="3.01" fill="#fafaff"/><rect x="198.9" y="805.28" width="56.6" height="2.3" fill="#ffffff"/><rect x="198.9" y="807.27" width="56.6" height="4.38" fill="#c0c0ff"/><rect x="198.9" y="811.35" width="56.6" height="2.2" fill="#f0f0ff"/><rect x="198.9" y="813.25" width="56.6" height="4.05" fill="#f3f3ff"/><rect x="255.2" y="63.5" width="56.6" height="0.84" fill="#6b6bff"/><rect x="255.2" y="64.04" width="56.6" height="3.78" fill="#b2b2ff"/><rect x="255.2" y="67.52" width="56.6" height="3.9" fill="#aaaaff"/><rect x="255.2" y="71.12" width="56.6" height="2.86" fill="#bdbdff"/><rect x="255.2" y="73.67" width="56.6" height="3.69" fill="#acacff"/><rect x="255.2" y="77.06" width="56.6" height="1.57" fill="#aeaeff"/><rect x="255.2" y="78.33" width="56.6" height="4" fill="#d4d4ff"/><rect x="255.2" y="82.03" width="56.6" height="1.92" fill="#d2d2ff"/><rect x="255.2" y="83.65" width="56.6" height="3.14" fill="#d7d7ff"/><rect x="255.2" y="86.49" width="56.6" height="2.94" fill="#ffffff"/><rect x="255.2" y="89.13" width="56.6" height="1.92" fill="#fcfcff"/><rect x="255.2" y="90.75" width="56.6" height="2.84" fill="#ffffff"/><rect x="255.2" y="93.29" width="56.6" height="4.38" fill="#b8b8ff"/><rect x="255.2" y="97.37" width="56.6" height="2.56" fill="#dcdcff"/><rect x="255.2" y="99.64" width="56.6" height="3.1" fill="#dfdfff"/><rect x="255.2" y="102.44" width="56.6" height="1.8" fill="#dadaff"/><rect x="255.2" y="103.95" width="56.6" height="1.89" fill="#e4e4ff"/><rect x="255.2" y="105.54" width="56.6" height="1.66" fill="#8686ff"/><rect x="255.2" y="106.9" width="56.6" height="4.36" fill="#e0e0ff"/><rect x="255.2" y="110.96" width="56.6" height="3.04" fill="#e1e1ff"/><rect x="255.2" y="113.7" width="56.6" height="2.13" fill="#8181ff"/><rect x="255.2" y="115.53" width="56.6" height="4.54" fill="#7979ff"/><rect x="255.2" y="119.78" width="56.6" height="4.05" fill="#8d8dff"/><rect x="255.2" y="123.53" width="56.6" height="2.72" fill="#8787ff"/><rect x="255.2" y="125.95" width="56.6" height="4.38" fill="#5959ff"/><rect x="255.2" y="130.03" width="56.6" height="2.07" fill="#8787ff"/><rect x="255.2" y="131.8" width="56.6" height="4.64" fill="#7979ff"/><rect x="255.2" y="136.14" width="56.6" height="2.35" fill="#9898ff"/><rect x="255.2" y="138.19" width="56.6" height="3.02" fill="#7878ff"/><rect x="255.2" y="140.91" width="56.6" height="3.16" fill="#babaff"/><rect x="255.2" y="143.77" width="56.6" height="1.96" fill="#c3c3ff"/><rect x="255.2" y="145.43" width="56.6" height="3.34" fill="#bcbcff"/><rect x="255.2" y="148.47" width="56.6" height="2.27" fill="#d2d2ff"/><rect x="255.2" y="150.44" width="56.6" height="1.93" fill="#9a9aff"/><rect x="255.2" y="152.07" width="56.6" height="3.91" fill="#9090ff"/><rect x="255.2" y="155.67" width="56.6" height="1.59" fill="#8686ff"/><rect x="255.2" y="156.97" width="56.6" height="0.33" fill="#5b5bff"/><rect x="255.2" y="157" width="56.6" height="2.55" fill="#5a5aff"/><rect x="255.2" y="159.25" width="56.6" height="1.98" fill="#5d5dff"/><rect x="255.2" y="160.93" width="56.6" height="2.4" fill="#6b6bff"/><rect x="255.2" y="163.03" width="56.6" height="2.73" fill="#6d6dff"/><rect x="255.2" y="165.46" width="56.6" height="3.81" fill="#6f6fff"/><rect x="255.2" y="168.97" width="56.6" height="1.93" fill="#6464ff"/><rect x="255.2" y="170.61" width="56.6" height="3.14" fill="#9a9aff"/><rect x="255.2" y="173.44" width="56.6" height="1.55" fill="#8989ff"/><rect x="255.2" y="174.69" width="56.6" height="4.45" fill="#5c5cff"/><rect x="255.2" y="178.84" width="56.6" height="2.23" fill="#4d4dff"/><rect x="255.2" y="180.77" width="56.6" height="4.25" fill="#5252ff"/><rect x="255.2" y="184.71" width="56.6" height="2.52" fill="#5555ff"/><rect x="255.2" y="186.93" width="56.6" height="4.38" fill="#2424ff"/><rect x="255.2" y="191.01" width="56.6" height="3.6" fill="#4545ff"/><rect x="255.2" y="194.31" width="56.6" height="2.45" fill="#5959ff"/><rect x="255.2" y="196.46" width="56.6" height="2.14" fill="#2828ff"/><rect x="255.2" y="198.3" width="56.6" height="2.42" fill="#3434ff"/><rect x="255.2" y="200.42" width="56.6" height="1.78" fill="#2929ff"/><rect x="255.2" y="201.9" width="56.6" height="3.9" fill="#5b5bff"/><rect x="255.2" y="205.5" width="56.6" height="2.14" fill="#5c5cff"/><rect x="255.2" y="207.34" width="56.6" height="3.02" fill="#1414ff"/><rect x="255.2" y="210.06" width="56.6" height="2.89" fill="#5757ff"/><rect x="255.2" y="212.65" width="56.6" height="1.83" fill="#5858ff"/><rect x="255.2" y="214.18" width="56.6" height="2.98" fill="#5555ff"/><rect x="255.2" y="216.86" width="56.6" height="3.95" fill="#6d6dff"/><rect x="255.2" y="220.52" width="56.6" height="4.74" fill="#6d6dff"/><rect x="255.2" y="224.96" width="56.6" height="3.09" fill="#6f6fff"/><rect x="255.2" y="227.75" width="56.6" height="3.7" fill="#1313ff"/><rect x="255.2" y="231.15" width="56.6" height="1.82" fill="#7d7dff"/><rect x="255.2" y="232.67" width="56.6" height="4.56" fill="#6969ff"/><rect x="255.2" y="236.93" width="56.6" height="4.61" fill="#6666ff"/><rect x="255.2" y="241.24" width="56.6" height="3.14" fill="#7171ff"/><rect x="255.2" y="244.07" width="56.6" height="2.22" fill="#9595ff"/><rect x="255.2" y="245.99" width="56.6" height="1.88" fill="#9191ff"/><rect x="255.2" y="247.57" width="56.6" height="2.69" fill="#7b7bff"/><rect x="255.2" y="249.96" width="56.6" height="2.3" fill="#8181ff"/><rect x="255.2" y="251.97" width="56.6" height="0.32" fill="#7f7fff"/><rect x="255.2" y="252" width="56.6" height="3.02" fill="#7575ff"/><rect x="255.2" y="254.72" width="56.6" height="4.38" fill="#3535ff"/><rect x="255.2" y="258.8" width="56.6" height="2.78" fill="#7979ff"/><rect x="255.2" y="261.28" width="56.6" height="2.76" fill="#8282ff"/><rect x="255.2" y="263.74" width="56.6" height="2.16" fill="#6868ff"/><rect x="255.2" y="265.61" width="56.6" height="4.29" fill="#6060ff"/><rect x="255.2" y="269.6" width="56.6" height="2.52" fill="#7070ff"/><rect x="255.2" y="271.82" width="56.6" height="3.68" fill="#6666ff"/><rect x="255.2" y="275.2" width="56.6" height="4.31" fill="#5d5dff"/><rect x="255.2" y="279.21" width="56.6" height="4.38" fill="#a3a3ff"/><rect x="255.2" y="283.29" width="56.6" height="3.28" fill="#c1c1ff"/><rect x="255.2" y="286.28" width="56.6" height="1.4" fill="#c6c6ff"/><rect x="255.2" y="287.37" width="56.6" height="3.54" fill="#a9a9ff"/><rect x="255.2" y="290.62" width="56.6" height="2.5" fill="#a3a3ff"/><rect x="255.2" y="292.82" width="56.6" height="3.13" fill="#aeaeff"/><rect x="255.2" y="295.65" width="56.6" height="2.91" fill="#a9a9ff"/><rect x="255.2" y="298.26" width="56.6" height="3.12" fill="#ccccff"/><rect x="255.2" y="301.08" width="56.6" height="1.81" fill="#d5d5ff"/><rect x="255.2" y="302.59" width="56.6" height="2.78" fill="#d1d1ff"/><rect x="255.2" y="305.06" width="56.6" height="3.08" fill="#7272ff"/><rect x="255.2" y="307.84" width="56.6" height="2.97" fill="#7979ff"/><rect x="255.2" y="310.5" width="56.6" height="3.06" fill="#6767ff"/><rect x="255.2" y="313.27" width="56.6" height="1.62" fill="#6464ff"/><rect x="255.2" y="314.59" width="56.6" height="4.38" fill="#5b5bff"/><rect x="255.2" y="318.67" width="56.6" height="4.38" fill="#aeaeff"/><rect x="255.2" y="322.75" width="56.6" height="3.13" fill="#a3a3ff"/><rect x="255.2" y="325.58" width="56.6" height="2.91" fill="#9898ff"/><rect x="255.2" y="328.19" width="56.6" height="2.06" fill="#8585ff"/><rect x="255.2" y="329.95" width="56.6" height="2.77" fill="#6666ff"/><rect x="255.2" y="332.42" width="56.6" height="1.52" fill="#8686ff"/><rect x="255.2" y="333.63" width="56.6" height="4.4" fill="#b5b5ff"/><rect x="255.2" y="337.73" width="56.6" height="1.65" fill="#9898ff"/><rect x="255.2" y="339.07" width="56.6" height="4.23" fill="#7171ff"/><rect x="255.2" y="343.01" width="56.6" height="4.26" fill="#6969ff"/><rect x="255.2" y="346.97" width="56.6" height="0.33" fill="#3f3fff"/><rect x="255.2" y="347" width="56.6" height="3.24" fill="#3c3cff"/><rect x="255.2" y="349.94" width="56.6" height="4.16" fill="#4444ff"/><rect x="255.2" y="353.8" width="56.6" height="3.02" fill="#cfcfff"/><rect x="255.2" y="356.52" width="56.6" height="1.88" fill="#9393ff"/><rect x="255.2" y="358.11" width="56.6" height="3.14" fill="#9c9cff"/><rect x="255.2" y="360.95" width="56.6" height="2.06" fill="#8989ff"/><rect x="255.2" y="362.7" width="56.6" height="3.54" fill="#8686ff"/><rect x="255.2" y="365.95" width="56.6" height="1.76" fill="#8181ff"/><rect x="255.2" y="367.41" width="56.6" height="2.99" fill="#5353ff"/><rect x="255.2" y="370.1" width="56.6" height="2.14" fill="#5e5eff"/><rect x="255.2" y="371.94" width="56.6" height="3.44" fill="#6868ff"/><rect x="255.2" y="375.08" width="56.6" height="2.14" fill="#5a5aff"/><rect x="255.2" y="376.92" width="56.6" height="1.67" fill="#4f4fff"/><rect x="255.2" y="378.29" width="56.6" height="2.34" fill="#8e8eff"/><rect x="255.2" y="380.33" width="56.6" height="3.46" fill="#5252ff"/><rect x="255.2" y="383.5" width="56.6" height="3.26" fill="#4242ff"/><rect x="255.2" y="386.46" width="56.6" height="3.34" fill="#6161ff"/><rect x="255.2" y="389.5" width="56.6" height="2.7" fill="#6c6cff"/><rect x="255.2" y="391.9" width="56.6" height="2.02" fill="#3e3eff"/><rect x="255.2" y="393.62" width="56.6" height="3.12" fill="#4141ff"/><rect x="255.2" y="396.44" width="56.6" height="3.94" fill="#2f2fff"/><rect x="255.2" y="400.08" width="56.6" height="4.07" fill="#4f4fff"/><rect x="255.2" y="403.85" width="56.6" height="4.67" fill="#4d4dff"/><rect x="255.2" y="408.22" width="56.6" height="2.11" fill="#0d0dff"/><rect x="255.2" y="410.03" width="56.6" height="2.31" fill="#0000ff"/><rect x="255.2" y="412.04" width="56.6" height="5.32" fill="#0000ff"/><rect x="255.2" y="417.07" width="56.6" height="2.21" fill="#4040ff"/><rect x="255.2" y="418.98" width="56.6" height="4.51" fill="#4e4eff"/><rect x="255.2" y="423.19" width="56.6" height="2.92" fill="#d7d7ff"/><rect x="255.2" y="425.81" width="56.6" height="1.85" fill="#cfcfff"/><rect x="255.2" y="427.35" width="56.6" height="2.94" fill="#d1d1ff"/><rect x="255.2" y="429.99" width="56.6" height="4.38" fill="#b4b4ff"/><rect x="255.2" y="434.07" width="56.6" height="3.66" fill="#dedeff"/><rect x="255.2" y="437.44" width="56.6" height="4.83" fill="#c0c0ff"/><rect x="255.2" y="441.97" width="56.6" height="0.32" fill="#ccccff"/><rect x="255.2" y="442" width="56.6" height="2.3" fill="#e2e2ff"/><rect x="255.2" y="444" width="56.6" height="3.74" fill="#dadaff"/><rect x="255.2" y="447.44" width="56.6" height="3.84" fill="#c9c9ff"/><rect x="255.2" y="450.98" width="56.6" height="2.2" fill="#c2c2ff"/><rect x="255.2" y="452.88" width="56.6" height="4.01" fill="#ffffff"/><rect x="255.2" y="456.6" width="56.6" height="2.03" fill="#ececff"/><rect x="255.2" y="458.33" width="56.6" height="3.61" fill="#d0d0ff"/><rect x="255.2" y="461.64" width="56.6" height="5.15" fill="#ceceff"/><rect x="255.2" y="466.49" width="56.6" height="2.14" fill="#c5c5ff"/><rect x="255.2" y="468.33" width="56.6" height="2.56" fill="#b1b1ff"/><rect x="255.2" y="470.59" width="56.6" height="3" fill="#a6a6ff"/><rect x="255.2" y="473.29" width="56.6" height="3.54" fill="#cdcdff"/><rect x="255.2" y="476.54" width="56.6" height="2.14" fill="#cbcbff"/><rect x="255.2" y="478.38" width="56.6" height="4.2" fill="#c7c7ff"/><rect x="255.2" y="482.28" width="56.6" height="2.36" fill="#bfbfff"/><rect x="255.2" y="484.34" width="56.6" height="1.5" fill="#c4c4ff"/><rect x="255.2" y="485.54" width="56.6" height="2.94" fill="#ffffff"/><rect x="255.2" y="488.18" width="56.6" height="3.42" fill="#ffffff"/><rect x="255.2" y="491.3" width="56.6" height="3.87" fill="#ffffff"/><rect x="255.2" y="494.86" width="56.6" height="1.84" fill="#f1f1ff"/><rect x="255.2" y="496.41" width="56.6" height="2.83" fill="#ffffff"/><rect x="255.2" y="498.93" width="56.6" height="4.42" fill="#ffffff"/><rect x="255.2" y="503.05" width="56.6" height="1.83" fill="#ffffff"/><rect x="255.2" y="504.59" width="56.6" height="4.38" fill="#e4e4ff"/><rect x="255.2" y="508.67" width="56.6" height="3.84" fill="#9393ff"/><rect x="255.2" y="512.21" width="56.6" height="2.27" fill="#a3a3ff"/><rect x="255.2" y="514.18" width="56.6" height="1.59" fill="#8c8cff"/><rect x="255.2" y="515.47" width="56.6" height="3.02" fill="#d3d3ff"/><rect x="255.2" y="518.19" width="56.6" height="2.03" fill="#fdfdff"/><rect x="255.2" y="519.92" width="56.6" height="4.48" fill="#ffffff"/><rect x="255.2" y="524.1" width="56.6" height="2.55" fill="#ffffff"/><rect x="255.2" y="526.35" width="56.6" height="2.88" fill="#d6d6ff"/><rect x="255.2" y="528.94" width="56.6" height="3.2" fill="#ccccff"/><rect x="255.2" y="531.84" width="56.6" height="2.86" fill="#d0d0ff"/><rect x="255.2" y="534.4" width="56.6" height="1.82" fill="#cdcdff"/><rect x="255.2" y="535.92" width="56.6" height="1.35" fill="#d0d0ff"/><rect x="255.2" y="536.97" width="56.6" height="0.33" fill="#c9c9ff"/><rect x="255.2" y="537" width="56.6" height="2.24" fill="#e2e2ff"/><rect x="255.2" y="538.94" width="56.6" height="2.44" fill="#e2e2ff"/><rect x="255.2" y="541.08" width="56.6" height="3.02" fill="#dcdcff"/><rect x="255.2" y="543.8" width="56.6" height="2.59" fill="#9f9fff"/><rect x="255.2" y="546.09" width="56.6" height="4.82" fill="#a5a5ff"/><rect x="255.2" y="550.61" width="56.6" height="4.78" fill="#ffffff"/><rect x="255.2" y="555.08" width="56.6" height="4.11" fill="#ffffff"/><rect x="255.2" y="558.89" width="56.6" height="4.42" fill="#ffffff"/><rect x="255.2" y="563.01" width="56.6" height="3.7" fill="#f7f7ff"/><rect x="255.2" y="566.42" width="56.6" height="2.18" fill="#fdfdff"/><rect x="255.2" y="568.29" width="56.6" height="4.42" fill="#ffffff"/><rect x="255.2" y="572.41" width="56.6" height="2.98" fill="#ededff"/><rect x="255.2" y="575.1" width="56.6" height="4.09" fill="#dbdbff"/><rect x="255.2" y="578.89" width="56.6" height="4.02" fill="#d5d5ff"/><rect x="255.2" y="582.6" width="56.6" height="2.85" fill="#e2e2ff"/><rect x="255.2" y="585.16" width="56.6" height="3.45" fill="#e0e0ff"/><rect x="255.2" y="588.31" width="56.6" height="3.41" fill="#e5e5ff"/><rect x="255.2" y="591.42" width="56.6" height="2.77" fill="#d2d2ff"/><rect x="255.2" y="593.89" width="56.6" height="2.9" fill="#c6c6ff"/><rect x="255.2" y="596.49" width="56.6" height="3.39" fill="#c7c7ff"/><rect x="255.2" y="599.59" width="56.6" height="2.21" fill="#fafaff"/><rect x="255.2" y="601.49" width="56.6" height="2.47" fill="#f8f8ff"/><rect x="255.2" y="603.67" width="56.6" height="3.14" fill="#b0b0ff"/><rect x="255.2" y="606.5" width="56.6" height="4.27" fill="#b6b6ff"/><rect x="255.2" y="610.47" width="56.6" height="2" fill="#9393ff"/><rect x="255.2" y="612.17" width="56.6" height="1.32" fill="#8888ff"/><rect x="255.2" y="613.19" width="56.6" height="3.45" fill="#7272ff"/><rect x="255.2" y="616.34" width="56.6" height="2.59" fill="#5757ff"/><rect x="255.2" y="618.63" width="56.6" height="3.55" fill="#afafff"/><rect x="255.2" y="621.88" width="56.6" height="2.49" fill="#a1a1ff"/><rect x="255.2" y="624.07" width="56.6" height="4.76" fill="#d2d2ff"/><rect x="255.2" y="628.54" width="56.6" height="3.73" fill="#c8c8ff"/><rect x="255.2" y="631.97" width="56.6" height="0.33" fill="#aeaeff"/><rect x="255.2" y="632" width="56.6" height="2" fill="#a3a3ff"/><rect x="255.2" y="633.7" width="56.6" height="2.68" fill="#babaff"/><rect x="255.2" y="636.08" width="56.6" height="3.02" fill="#f7f7ff"/><rect x="255.2" y="638.8" width="56.6" height="2.6" fill="#b9b9ff"/><rect x="255.2" y="641.11" width="56.6" height="2.08" fill="#babaff"/><rect x="255.2" y="642.88" width="56.6" height="2.4" fill="#6d6dff"/><rect x="255.2" y="644.99" width="56.6" height="3.61" fill="#6d6dff"/><rect x="255.2" y="648.29" width="56.6" height="2.39" fill="#5858ff"/><rect x="255.2" y="650.38" width="56.6" height="4" fill="#7070ff"/><rect x="255.2" y="654.09" width="56.6" height="1.34" fill="#6060ff"/><rect x="255.2" y="655.13" width="56.6" height="4.23" fill="#2323ff"/><rect x="255.2" y="659.06" width="56.6" height="3.17" fill="#1616ff"/><rect x="255.2" y="661.93" width="56.6" height="2.36" fill="#4f4fff"/><rect x="255.2" y="664" width="56.6" height="2.32" fill="#5f5fff"/><rect x="255.2" y="666.01" width="56.6" height="4.38" fill="#2d2dff"/><rect x="255.2" y="670.1" width="56.6" height="3.02" fill="#7a7aff"/><rect x="255.2" y="672.82" width="56.6" height="3.75" fill="#8f8fff"/><rect x="255.2" y="676.26" width="56.6" height="2.3" fill="#a4a4ff"/><rect x="255.2" y="678.26" width="56.6" height="1.97" fill="#a7a7ff"/><rect x="255.2" y="679.93" width="56.6" height="3.68" fill="#acacff"/><rect x="255.2" y="683.31" width="56.6" height="3.41" fill="#9d9dff"/><rect x="255.2" y="686.42" width="56.6" height="3.02" fill="#8e8eff"/><rect x="255.2" y="689.14" width="56.6" height="3.19" fill="#9696ff"/><rect x="255.2" y="692.03" width="56.6" height="3.49" fill="#8181ff"/><rect x="255.2" y="695.23" width="56.6" height="2.38" fill="#8c8cff"/><rect x="255.2" y="697.31" width="56.6" height="3.97" fill="#ffffff"/><rect x="255.2" y="700.98" width="56.6" height="3.43" fill="#ffffff"/><rect x="255.2" y="704.11" width="56.6" height="2.23" fill="#7575ff"/><rect x="255.2" y="706.04" width="56.6" height="2.45" fill="#8181ff"/><rect x="255.2" y="708.19" width="56.6" height="3.07" fill="#5151ff"/><rect x="255.2" y="710.96" width="56.6" height="2.97" fill="#3c3cff"/><rect x="255.2" y="713.63" width="56.6" height="3.77" fill="#5d5dff"/><rect x="255.2" y="717.1" width="56.6" height="2.27" fill="#5b5bff"/><rect x="255.2" y="719.07" width="56.6" height="2.57" fill="#8080ff"/><rect x="255.2" y="721.35" width="56.6" height="3.93" fill="#7373ff"/><rect x="255.2" y="724.98" width="56.6" height="2.28" fill="#6060ff"/><rect x="255.2" y="726.97" width="56.6" height="0.33" fill="#8a8aff"/><rect x="255.2" y="727" width="56.6" height="2.63" fill="#a8a8ff"/><rect x="255.2" y="729.33" width="56.6" height="3.37" fill="#afafff"/><rect x="255.2" y="732.4" width="56.6" height="1.7" fill="#a8a8ff"/><rect x="255.2" y="733.8" width="56.6" height="3.23" fill="#5a5aff"/><rect x="255.2" y="736.73" width="56.6" height="2.89" fill="#5555ff"/><rect x="255.2" y="739.32" width="56.6" height="1.59" fill="#6565ff"/><rect x="255.2" y="740.61" width="56.6" height="2.07" fill="#8282ff"/><rect x="255.2" y="742.38" width="56.6" height="1.88" fill="#7474ff"/><rect x="255.2" y="743.96" width="56.6" height="3.31" fill="#7474ff"/><rect x="255.2" y="746.96" width="56.6" height="2.1" fill="#7b7bff"/><rect x="255.2" y="748.77" width="56.6" height="2.9" fill="#2424ff"/><rect x="255.2" y="751.37" width="56.6" height="2.25" fill="#1515ff"/><rect x="255.2" y="753.31" width="56.6" height="2.56" fill="#1d1dff"/><rect x="255.2" y="755.57" width="56.6" height="2.29" fill="#6666ff"/><rect x="255.2" y="757.56" width="56.6" height="2.53" fill="#5858ff"/><rect x="255.2" y="759.79" width="56.6" height="1.53" fill="#4747ff"/><rect x="255.2" y="761.01" width="56.6" height="2.83" fill="#1c1cff"/><rect x="255.2" y="763.55" width="56.6" height="4.2" fill="#1414ff"/><rect x="255.2" y="767.45" width="56.6" height="2.03" fill="#1f1fff"/><rect x="255.2" y="769.18" width="56.6" height="2.12" fill="#3838ff"/><rect x="255.2" y="771" width="56.6" height="3.92" fill="#3535ff"/><rect x="255.2" y="774.62" width="56.6" height="3.01" fill="#5757ff"/><rect x="255.2" y="777.32" width="56.6" height="3.04" fill="#5252ff"/><rect x="255.2" y="780.06" width="56.6" height="3.03" fill="#3131ff"/><rect x="255.2" y="782.79" width="56.6" height="3.01" fill="#1111ff"/><rect x="255.2" y="785.5" width="56.6" height="2.47" fill="#3939ff"/><rect x="255.2" y="787.68" width="56.6" height="3.1" fill="#4040ff"/><rect x="255.2" y="790.48" width="56.6" height="3.49" fill="#3e3eff"/><rect x="255.2" y="793.67" width="56.6" height="3.73" fill="#9090ff"/><rect x="255.2" y="797.09" width="56.6" height="3.67" fill="#8686ff"/><rect x="255.2" y="800.47" width="56.6" height="4.38" fill="#8d8dff"/><rect x="255.2" y="804.55" width="56.6" height="2.27" fill="#6262ff"/><rect x="255.2" y="806.52" width="56.6" height="2.41" fill="#4646ff"/><rect x="255.2" y="808.63" width="56.6" height="4.05" fill="#9191ff"/><rect x="255.2" y="812.39" width="56.6" height="2.79" fill="#8686ff"/><rect x="255.2" y="814.88" width="56.6" height="2.42" fill="#9292ff"/><rect x="311.5" y="63.5" width="56.6" height="3.85" fill="#a6a6ff"/><rect x="311.5" y="67.05" width="56.6" height="2.05" fill="#9e9eff"/><rect x="311.5" y="68.8" width="56.6" height="4.45" fill="#d8d8ff"/><rect x="311.5" y="72.95" width="56.6" height="2.43" fill="#dbdbff"/><rect x="311.5" y="75.08" width="56.6" height="4.91" fill="#ceceff"/><rect x="311.5" y="79.69" width="56.6" height="4.38" fill="#4141ff"/><rect x="311.5" y="83.77" width="56.6" height="5.74" fill="#9292ff"/><rect x="311.5" y="89.21" width="56.6" height="2.34" fill="#5a5aff"/><rect x="311.5" y="91.25" width="56.6" height="4.72" fill="#d5d5ff"/><rect x="311.5" y="95.67" width="56.6" height="1.83" fill="#d9d9ff"/><rect x="311.5" y="97.2" width="56.6" height="4.01" fill="#d2d2ff"/><rect x="311.5" y="100.91" width="56.6" height="2.21" fill="#dcdcff"/><rect x="311.5" y="102.82" width="56.6" height="2.07" fill="#9b9bff"/><rect x="311.5" y="104.59" width="56.6" height="2.61" fill="#9b9bff"/><rect x="311.5" y="106.9" width="56.6" height="4.45" fill="#dbdbff"/><rect x="311.5" y="111.04" width="56.6" height="5.68" fill="#eaeaff"/><rect x="311.5" y="116.42" width="56.6" height="4.38" fill="#8f8fff"/><rect x="311.5" y="120.5" width="56.6" height="3.87" fill="#a7a7ff"/><rect x="311.5" y="124.07" width="56.6" height="2.49" fill="#9f9fff"/><rect x="311.5" y="126.27" width="56.6" height="1.34" fill="#9d9dff"/><rect x="311.5" y="127.31" width="56.6" height="4.77" fill="#e4e4ff"/><rect x="311.5" y="131.78" width="56.6" height="2.75" fill="#e6e6ff"/><rect x="311.5" y="134.23" width="56.6" height="3.26" fill="#dfdfff"/><rect x="311.5" y="137.19" width="56.6" height="1.3" fill="#ddddff"/><rect x="311.5" y="138.19" width="56.6" height="3.86" fill="#adadff"/><rect x="311.5" y="141.75" width="56.6" height="2.24" fill="#a9a9ff"/><rect x="311.5" y="143.69" width="56.6" height="1.6" fill="#9e9eff"/><rect x="311.5" y="144.99" width="56.6" height="2.86" fill="#5b5bff"/><rect x="311.5" y="147.55" width="56.6" height="2.85" fill="#7272ff"/><rect x="311.5" y="150.1" width="56.6" height="1.99" fill="#8585ff"/><rect x="311.5" y="151.8" width="56.6" height="3.99" fill="#a6a6ff"/><rect x="311.5" y="155.49" width="56.6" height="1.78" fill="#adadff"/><rect x="311.5" y="156.97" width="56.6" height="0.33" fill="#b1b1ff"/><rect x="311.5" y="157" width="56.6" height="1.93" fill="#a0a0ff"/><rect x="311.5" y="158.63" width="56.6" height="3.47" fill="#a9a9ff"/><rect x="311.5" y="161.8" width="56.6" height="2.89" fill="#b9b9ff"/><rect x="311.5" y="164.39" width="56.6" height="4.48" fill="#ababff"/><rect x="311.5" y="168.56" width="56.6" height="2.34" fill="#f6f6ff"/><rect x="311.5" y="170.61" width="56.6" height="4.75" fill="#4242ff"/><rect x="311.5" y="175.05" width="56.6" height="4.42" fill="#4545ff"/><rect x="311.5" y="179.17" width="56.6" height="2.75" fill="#3d3dff"/><rect x="311.5" y="181.63" width="56.6" height="3.06" fill="#5151ff"/><rect x="311.5" y="184.39" width="56.6" height="2.96" fill="#4545ff"/><rect x="311.5" y="187.04" width="56.6" height="1.55" fill="#5d5dff"/><rect x="311.5" y="188.29" width="56.6" height="1.82" fill="#9b9bff"/><rect x="311.5" y="189.81" width="56.6" height="3.62" fill="#8686ff"/><rect x="311.5" y="193.13" width="56.6" height="3.63" fill="#7c7cff"/><rect x="311.5" y="196.46" width="56.6" height="2.93" fill="#8080ff"/><rect x="311.5" y="199.1" width="56.6" height="2.15" fill="#8686ff"/><rect x="311.5" y="200.94" width="56.6" height="4.33" fill="#8484ff"/><rect x="311.5" y="204.97" width="56.6" height="1.95" fill="#6a6aff"/><rect x="311.5" y="206.62" width="56.6" height="3.88" fill="#7979ff"/><rect x="311.5" y="210.2" width="56.6" height="1.52" fill="#8c8cff"/><rect x="311.5" y="211.42" width="56.6" height="2.75" fill="#5555ff"/><rect x="311.5" y="213.87" width="56.6" height="4.66" fill="#5555ff"/><rect x="311.5" y="218.22" width="56.6" height="4.36" fill="#2b2bff"/><rect x="311.5" y="222.28" width="56.6" height="3.04" fill="#3838ff"/><rect x="311.5" y="225.03" width="56.6" height="2.5" fill="#4a4aff"/><rect x="311.5" y="227.23" width="56.6" height="3.54" fill="#4949ff"/><rect x="311.5" y="230.47" width="56.6" height="3.94" fill="#9292ff"/><rect x="311.5" y="234.11" width="56.6" height="3.64" fill="#a3a3ff"/><rect x="311.5" y="237.44" width="56.6" height="3.83" fill="#9696ff"/><rect x="311.5" y="240.98" width="56.6" height="3.43" fill="#a8a8ff"/><rect x="311.5" y="244.11" width="56.6" height="1.63" fill="#9696ff"/><rect x="311.5" y="245.44" width="56.6" height="4.53" fill="#5050ff"/><rect x="311.5" y="249.66" width="56.6" height="2.6" fill="#5353ff"/><rect x="311.5" y="251.97" width="56.6" height="0.32" fill="#4949ff"/><rect x="311.5" y="252" width="56.6" height="2.46" fill="#d5d5ff"/><rect x="311.5" y="254.16" width="56.6" height="1.54" fill="#d8d8ff"/><rect x="311.5" y="255.4" width="56.6" height="3.37" fill="#7c7cff"/><rect x="311.5" y="258.47" width="56.6" height="1.99" fill="#8b8bff"/><rect x="311.5" y="260.16" width="56.6" height="2.32" fill="#7676ff"/><rect x="311.5" y="262.18" width="56.6" height="3.73" fill="#6767ff"/><rect x="311.5" y="265.61" width="56.6" height="4.28" fill="#7373ff"/><rect x="311.5" y="269.59" width="56.6" height="1.76" fill="#5757ff"/><rect x="311.5" y="271.05" width="56.6" height="2.94" fill="#5e5eff"/><rect x="311.5" y="273.69" width="56.6" height="1.74" fill="#4545ff"/><rect x="311.5" y="275.13" width="56.6" height="2.26" fill="#7171ff"/><rect x="311.5" y="277.09" width="56.6" height="3.78" fill="#7676ff"/><rect x="311.5" y="280.57" width="56.6" height="4.21" fill="#1212ff"/><rect x="311.5" y="284.48" width="56.6" height="1.83" fill="#1b1bff"/><rect x="311.5" y="286.01" width="56.6" height="2.99" fill="#4848ff"/><rect x="311.5" y="288.7" width="56.6" height="3.15" fill="#3838ff"/><rect x="311.5" y="291.55" width="56.6" height="1.57" fill="#3e3eff"/><rect x="311.5" y="292.82" width="56.6" height="2.25" fill="#6161ff"/><rect x="311.5" y="294.77" width="56.6" height="2.43" fill="#6969ff"/><rect x="311.5" y="296.9" width="56.6" height="2.51" fill="#5e5eff"/><rect x="311.5" y="299.11" width="56.6" height="2.91" fill="#5050ff"/><rect x="311.5" y="301.72" width="56.6" height="2.28" fill="#5d5dff"/><rect x="311.5" y="303.7" width="56.6" height="2.4" fill="#1919ff"/><rect x="311.5" y="305.8" width="56.6" height="2.34" fill="#1b1bff"/><rect x="311.5" y="307.84" width="56.6" height="4.33" fill="#1b1bff"/><rect x="311.5" y="311.86" width="56.6" height="2.53" fill="#0303ff"/><rect x="311.5" y="314.09" width="56.6" height="3.52" fill="#0404ff"/><rect x="311.5" y="317.31" width="56.6" height="4.38" fill="#4e4eff"/><rect x="311.5" y="321.38" width="56.6" height="1.67" fill="#3737ff"/><rect x="311.5" y="322.75" width="56.6" height="3.65" fill="#5d5dff"/><rect x="311.5" y="326.1" width="56.6" height="2.91" fill="#5f5fff"/><rect x="311.5" y="328.72" width="56.6" height="2.9" fill="#5858ff"/><rect x="311.5" y="331.32" width="56.6" height="3.94" fill="#5252ff"/><rect x="311.5" y="334.96" width="56.6" height="1.7" fill="#5f5fff"/><rect x="311.5" y="336.35" width="56.6" height="4.23" fill="#4141ff"/><rect x="311.5" y="340.29" width="56.6" height="1.81" fill="#4f4fff"/><rect x="311.5" y="341.8" width="56.6" height="5.47" fill="#4242ff"/><rect x="311.5" y="346.97" width="56.6" height="0.33" fill="#8a8aff"/><rect x="311.5" y="347" width="56.6" height="2.92" fill="#4242ff"/><rect x="311.5" y="349.62" width="56.6" height="2.01" fill="#3f3fff"/><rect x="311.5" y="351.33" width="56.6" height="2.77" fill="#3e3eff"/><rect x="311.5" y="353.8" width="56.6" height="3.29" fill="#2525ff"/><rect x="311.5" y="356.79" width="56.6" height="4.5" fill="#1c1cff"/><rect x="311.5" y="361" width="56.6" height="3.58" fill="#1a1aff"/><rect x="311.5" y="364.27" width="56.6" height="3.43" fill="#0a0aff"/><rect x="311.5" y="367.41" width="56.6" height="3.04" fill="#0d0dff"/><rect x="311.5" y="370.15" width="56.6" height="3.22" fill="#1111ff"/><rect x="311.5" y="373.07" width="56.6" height="3.27" fill="#0202ff"/><rect x="311.5" y="376.05" width="56.6" height="2.55" fill="#0f0fff"/><rect x="311.5" y="378.29" width="56.6" height="4.02" fill="#0f0fff"/><rect x="311.5" y="382.01" width="56.6" height="3.01" fill="#2b2bff"/><rect x="311.5" y="384.72" width="56.6" height="2.04" fill="#2020ff"/><rect x="311.5" y="386.46" width="56.6" height="4.11" fill="#0f0fff"/><rect x="311.5" y="390.26" width="56.6" height="2.46" fill="#0909ff"/><rect x="311.5" y="392.43" width="56.6" height="2.03" fill="#1010ff"/><rect x="311.5" y="394.16" width="56.6" height="2.06" fill="#0a0aff"/><rect x="311.5" y="395.92" width="56.6" height="4.06" fill="#0b0bff"/><rect x="311.5" y="399.68" width="56.6" height="2.04" fill="#0d0dff"/><rect x="311.5" y="401.42" width="56.6" height="3.93" fill="#2727ff"/><rect x="311.5" y="405.05" width="56.6" height="3.47" fill="#2b2bff"/><rect x="311.5" y="408.22" width="56.6" height="3.05" fill="#7e7eff"/><rect x="311.5" y="410.98" width="56.6" height="2.99" fill="#8a8aff"/><rect x="311.5" y="413.67" width="56.6" height="4.38" fill="#7777ff"/><rect x="311.5" y="417.75" width="56.6" height="3.35" fill="#6a6aff"/><rect x="311.5" y="420.8" width="56.6" height="2.69" fill="#6b6bff"/><rect x="311.5" y="423.19" width="56.6" height="2.59" fill="#c6c6ff"/><rect x="311.5" y="425.48" width="56.6" height="2.74" fill="#c6c6ff"/><rect x="311.5" y="427.92" width="56.6" height="3.74" fill="#dadaff"/><rect x="311.5" y="431.35" width="56.6" height="3.33" fill="#e0e0ff"/><rect x="311.5" y="434.39" width="56.6" height="2.71" fill="#e4e4ff"/><rect x="311.5" y="436.8" width="56.6" height="4.4" fill="#cdcdff"/><rect x="311.5" y="440.9" width="56.6" height="1.37" fill="#b4b4ff"/><rect x="311.5" y="441.97" width="56.6" height="0.32" fill="#d2d2ff"/><rect x="311.5" y="442" width="56.6" height="2.92" fill="#cacaff"/><rect x="311.5" y="444.62" width="56.6" height="3.12" fill="#b9b9ff"/><rect x="311.5" y="447.44" width="56.6" height="2.9" fill="#b9b9ff"/><rect x="311.5" y="450.04" width="56.6" height="3.14" fill="#bfbfff"/><rect x="311.5" y="452.88" width="56.6" height="4.38" fill="#eaeaff"/><rect x="311.5" y="456.97" width="56.6" height="1.95" fill="#ececff"/><rect x="311.5" y="458.62" width="56.6" height="3.03" fill="#fcfcff"/><rect x="311.5" y="461.35" width="56.6" height="4.08" fill="#ededff"/><rect x="311.5" y="465.13" width="56.6" height="4.19" fill="#cdcdff"/><rect x="311.5" y="469.02" width="56.6" height="2.67" fill="#c2c2ff"/><rect x="311.5" y="471.39" width="56.6" height="2.2" fill="#b5b5ff"/><rect x="311.5" y="473.29" width="56.6" height="3.16" fill="#dedeff"/><rect x="311.5" y="476.16" width="56.6" height="4.24" fill="#d0d0ff"/><rect x="311.5" y="480.1" width="56.6" height="1.97" fill="#ababff"/><rect x="311.5" y="481.77" width="56.6" height="1.95" fill="#bebeff"/><rect x="311.5" y="483.42" width="56.6" height="4.39" fill="#c4c4ff"/><rect x="311.5" y="487.5" width="56.6" height="2.34" fill="#bebeff"/><rect x="311.5" y="489.54" width="56.6" height="4.57" fill="#a8a8ff"/><rect x="311.5" y="493.81" width="56.6" height="2.91" fill="#b1b1ff"/><rect x="311.5" y="496.42" width="56.6" height="3.82" fill="#d1d1ff"/><rect x="311.5" y="499.94" width="56.6" height="2.22" fill="#cdcdff"/><rect x="311.5" y="501.86" width="56.6" height="4.31" fill="#f0f0ff"/><rect x="311.5" y="505.88" width="56.6" height="2.42" fill="#f4f4ff"/><rect x="311.5" y="508" width="56.6" height="2.33" fill="#f1f1ff"/><rect x="311.5" y="510.03" width="56.6" height="4.65" fill="#d0d0ff"/><rect x="311.5" y="514.38" width="56.6" height="1.39" fill="#c2c2ff"/><rect x="311.5" y="515.47" width="56.6" height="4.52" fill="#8787ff"/><rect x="311.5" y="519.69" width="56.6" height="2.89" fill="#9090ff"/><rect x="311.5" y="522.27" width="56.6" height="4.38" fill="#bbbbff"/><rect x="311.5" y="526.35" width="56.6" height="1.93" fill="#8484ff"/><rect x="311.5" y="527.98" width="56.6" height="1.4" fill="#7878ff"/><rect x="311.5" y="529.07" width="56.6" height="3.55" fill="#c1c1ff"/><rect x="311.5" y="532.32" width="56.6" height="2.26" fill="#d2d2ff"/><rect x="311.5" y="534.28" width="56.6" height="2.98" fill="#bebeff"/><rect x="311.5" y="536.97" width="56.6" height="0.33" fill="#c9c9ff"/><rect x="311.5" y="537" width="56.6" height="3.02" fill="#b4b4ff"/><rect x="311.5" y="539.72" width="56.6" height="1.9" fill="#5454ff"/><rect x="311.5" y="541.32" width="56.6" height="2.94" fill="#5151ff"/><rect x="311.5" y="543.96" width="56.6" height="1.5" fill="#5050ff"/><rect x="311.5" y="545.16" width="56.6" height="2.08" fill="#a9a9ff"/><rect x="311.5" y="546.94" width="56.6" height="3.96" fill="#bcbcff"/><rect x="311.5" y="550.61" width="56.6" height="3.84" fill="#5555ff"/><rect x="311.5" y="554.14" width="56.6" height="2.17" fill="#5353ff"/><rect x="311.5" y="556.01" width="56.6" height="4.57" fill="#5e5eff"/><rect x="311.5" y="560.28" width="56.6" height="4.23" fill="#4646ff"/><rect x="311.5" y="564.21" width="56.6" height="2.67" fill="#a0a0ff"/><rect x="311.5" y="566.58" width="56.6" height="3.29" fill="#b7b7ff"/><rect x="311.5" y="569.57" width="56.6" height="1.74" fill="#b4b4ff"/><rect x="311.5" y="571.01" width="56.6" height="4.39" fill="#dbdbff"/><rect x="311.5" y="575.11" width="56.6" height="3.59" fill="#d0d0ff"/><rect x="311.5" y="578.4" width="56.6" height="2.22" fill="#d3d3ff"/><rect x="311.5" y="580.32" width="56.6" height="2.61" fill="#e3e3ff"/><rect x="311.5" y="582.63" width="56.6" height="2.48" fill="#c9c9ff"/><rect x="311.5" y="584.81" width="56.6" height="5.55" fill="#e2e2ff"/><rect x="311.5" y="590.06" width="56.6" height="4.7" fill="#1919ff"/><rect x="311.5" y="594.46" width="56.6" height="2.7" fill="#2424ff"/><rect x="311.5" y="596.86" width="56.6" height="1.95" fill="#0404ff"/><rect x="311.5" y="598.51" width="56.6" height="2.8" fill="#0101ff"/><rect x="311.5" y="601.01" width="56.6" height="2.95" fill="#0b0bff"/><rect x="311.5" y="603.67" width="56.6" height="2.34" fill="#4949ff"/><rect x="311.5" y="605.7" width="56.6" height="2.01" fill="#3f3fff"/><rect x="311.5" y="607.41" width="56.6" height="3.36" fill="#5151ff"/><rect x="311.5" y="610.47" width="56.6" height="4.16" fill="#4040ff"/><rect x="311.5" y="614.33" width="56.6" height="1.88" fill="#3636ff"/><rect x="311.5" y="615.91" width="56.6" height="3.02" fill="#8e8eff"/><rect x="311.5" y="618.63" width="56.6" height="2.09" fill="#eeeeff"/><rect x="311.5" y="620.42" width="56.6" height="3.53" fill="#ededff"/><rect x="311.5" y="623.66" width="56.6" height="2.08" fill="#e7e7ff"/><rect x="311.5" y="625.44" width="56.6" height="2.29" fill="#b4b4ff"/><rect x="311.5" y="627.43" width="56.6" height="2.31" fill="#b2b2ff"/><rect x="311.5" y="629.44" width="56.6" height="2.83" fill="#a7a7ff"/><rect x="311.5" y="631.97" width="56.6" height="0.33" fill="#6c6cff"/><rect x="311.5" y="632" width="56.6" height="2.08" fill="#7272ff"/><rect x="311.5" y="633.78" width="56.6" height="3.96" fill="#7a7aff"/><rect x="311.5" y="637.44" width="56.6" height="3.41" fill="#9595ff"/><rect x="311.5" y="640.55" width="56.6" height="2.63" fill="#8888ff"/><rect x="311.5" y="642.88" width="56.6" height="4.38" fill="#4848ff"/><rect x="311.5" y="646.97" width="56.6" height="3.32" fill="#7b7bff"/><rect x="311.5" y="649.99" width="56.6" height="2.72" fill="#8484ff"/><rect x="311.5" y="652.41" width="56.6" height="2.41" fill="#7676ff"/><rect x="311.5" y="654.52" width="56.6" height="4.41" fill="#7777ff"/><rect x="311.5" y="658.63" width="56.6" height="3.31" fill="#7373ff"/><rect x="311.5" y="661.64" width="56.6" height="1.95" fill="#7070ff"/><rect x="311.5" y="663.29" width="56.6" height="3.27" fill="#9f9fff"/><rect x="311.5" y="666.26" width="56.6" height="1.42" fill="#8f8fff"/><rect x="311.5" y="667.37" width="56.6" height="2.49" fill="#aaaaff"/><rect x="311.5" y="669.56" width="56.6" height="3.55" fill="#a4a4ff"/><rect x="311.5" y="672.82" width="56.6" height="1.89" fill="#1313ff"/><rect x="311.5" y="674.41" width="56.6" height="2.68" fill="#2424ff"/><rect x="311.5" y="676.78" width="56.6" height="3.13" fill="#2828ff"/><rect x="311.5" y="679.62" width="56.6" height="2.5" fill="#3f3fff"/><rect x="311.5" y="681.82" width="56.6" height="3.59" fill="#3c3cff"/><rect x="311.5" y="685.11" width="56.6" height="1.62" fill="#2929ff"/><rect x="311.5" y="686.42" width="56.6" height="2.54" fill="#0505ff"/><rect x="311.5" y="688.66" width="56.6" height="1.92" fill="#0c0cff"/><rect x="311.5" y="690.28" width="56.6" height="3.24" fill="#1616ff"/><rect x="311.5" y="693.22" width="56.6" height="2.83" fill="#3636ff"/><rect x="311.5" y="695.75" width="56.6" height="1.86" fill="#3131ff"/><rect x="311.5" y="697.31" width="56.6" height="1.83" fill="#7777ff"/><rect x="311.5" y="698.84" width="56.6" height="4.62" fill="#6969ff"/><rect x="311.5" y="703.16" width="56.6" height="2.61" fill="#7777ff"/><rect x="311.5" y="705.47" width="56.6" height="2.53" fill="#0707ff"/><rect x="311.5" y="707.7" width="56.6" height="2.25" fill="#0000ff"/><rect x="311.5" y="709.66" width="56.6" height="2.83" fill="#0d0dff"/><rect x="311.5" y="712.19" width="56.6" height="2.46" fill="#0e0eff"/><rect x="311.5" y="714.35" width="56.6" height="2.79" fill="#2a2aff"/><rect x="311.5" y="716.84" width="56.6" height="4.17" fill="#0303ff"/><rect x="311.5" y="720.72" width="56.6" height="3.24" fill="#0000ff"/><rect x="311.5" y="723.66" width="56.6" height="3.61" fill="#0909ff"/><rect x="311.5" y="726.97" width="56.6" height="0.33" fill="#0101ff"/><rect x="311.5" y="727" width="56.6" height="3.68" fill="#0909ff"/><rect x="311.5" y="730.38" width="56.6" height="5.09" fill="#0f0fff"/><rect x="311.5" y="735.16" width="56.6" height="3.95" fill="#5151ff"/><rect x="311.5" y="738.82" width="56.6" height="2.09" fill="#6262ff"/><rect x="311.5" y="740.61" width="56.6" height="3.82" fill="#7979ff"/><rect x="311.5" y="744.12" width="56.6" height="4.95" fill="#6f6fff"/><rect x="311.5" y="748.77" width="56.6" height="4.61" fill="#c6c6ff"/><rect x="311.5" y="753.08" width="56.6" height="2.79" fill="#b8b8ff"/><rect x="311.5" y="755.57" width="56.6" height="4.21" fill="#2626ff"/><rect x="311.5" y="759.48" width="56.6" height="1.84" fill="#2828ff"/><rect x="311.5" y="761.01" width="56.6" height="4.15" fill="#2424ff"/><rect x="311.5" y="764.87" width="56.6" height="4.41" fill="#1515ff"/><rect x="311.5" y="768.98" width="56.6" height="1.86" fill="#3434ff"/><rect x="311.5" y="770.54" width="56.6" height="4.64" fill="#8585ff"/><rect x="311.5" y="774.88" width="56.6" height="1.4" fill="#8383ff"/><rect x="311.5" y="775.98" width="56.6" height="2.56" fill="#a0a0ff"/><rect x="311.5" y="778.24" width="56.6" height="2.39" fill="#9696ff"/><rect x="311.5" y="780.33" width="56.6" height="4.11" fill="#9d9dff"/><rect x="311.5" y="784.14" width="56.6" height="4.52" fill="#b6b6ff"/><rect x="311.5" y="788.37" width="56.6" height="1.52" fill="#a8a8ff"/><rect x="311.5" y="789.59" width="56.6" height="4.38" fill="#d9d9ff"/><rect x="311.5" y="793.67" width="56.6" height="4.18" fill="#9292ff"/><rect x="311.5" y="797.55" width="56.6" height="3.22" fill="#8686ff"/><rect x="311.5" y="800.47" width="56.6" height="3.02" fill="#d3d3ff"/><rect x="311.5" y="803.19" width="56.6" height="4.38" fill="#ceceff"/><rect x="311.5" y="807.27" width="56.6" height="2.82" fill="#e1e1ff"/><rect x="311.5" y="809.79" width="56.6" height="1.86" fill="#e6e6ff"/><rect x="311.5" y="811.35" width="56.6" height="1.81" fill="#a8a8ff"/><rect x="311.5" y="812.87" width="56.6" height="2.13" fill="#aaaaff"/><rect x="311.5" y="814.7" width="56.6" height="2.6" fill="#9e9eff"/></g><rect x="24.73" y="66.15" width="2.27" height="7.31" fill="#a8a8a8"/><rect x="24.86" y="77.04" width="2.14" height="9.4" fill="#a8a8a8"/><rect x="24.04" y="92.26" width="2.96" height="7.35" fill="#a8a8a8"/><rect x="24.93" y="108.06" width="2.07" height="6.03" fill="#a8a8a8"/><rect x="24.51" y="132.84" width="2.49" height="1.99" fill="#a8a8a8"/><rect x="24.84" y="170.94" width="2.16" height="2.2" fill="#a8a8a8"/><rect x="24.61" y="221.47" width="2.39" height="13.14" fill="#a8a8a8"/><rect x="23.46" y="359.52" width="3.54" height="2.99" fill="#a8a8a8"/><rect x="24.86" y="366.16" width="2.14" height="3.97" fill="#a8a8a8"/><rect x="24.51" y="421.84" width="2.49" height="5.48" fill="#a8a8a8"/><rect x="24.51" y="431.74" width="2.49" height="7.65" fill="#a8a8a8"/><rect x="23.78" y="445.27" width="3.22" height="5.68" fill="#a8a8a8"/><rect x="24.56" y="455.73" width="2.44" height="4.24" fill="#a8a8a8"/><rect x="24.85" y="463.57" width="2.15" height="6.7" fill="#a8a8a8"/><rect x="24.63" y="474.08" width="2.37" height="5.9" fill="#a8a8a8"/><rect x="24.33" y="502.62" width="2.67" height="8.7" fill="#a8a8a8"/><rect x="24.85" y="551.98" width="2.15" height="6.96" fill="#a8a8a8"/><rect x="22.23" y="562.91" width="4.77" height="6.46" fill="#a8a8a8"/><rect x="24.88" y="629.78" width="2.12" height="2.5" fill="#a8a8a8"/><rect x="24.81" y="635.79" width="2.19" height="4.03" fill="#a8a8a8"/><rect x="23.8" y="661.17" width="3.2" height="7.43" fill="#a8a8a8"/><rect x="24.36" y="672.37" width="2.64" height="4.39" fill="#a8a8a8"/><rect x="22.75" y="681.92" width="4.25" height="5.5" fill="#a8a8a8"/><rect x="24.63" y="691.05" width="2.37" height="4.62" fill="#a8a8a8"/><rect x="24.66" y="698.25" width="2.34" height="10.54" fill="#a8a8a8"/><rect x="24.44" y="714.89" width="2.56" height="6.17" fill="#a8a8a8"/><rect x="22.71" y="727.75" width="4.29" height="3.05" fill="#a8a8a8"/><rect x="24.87" y="734.91" width="2.13" height="5.2" fill="#a8a8a8"/><rect x="22.83" y="743.23" width="4.17" height="8.25" fill="#a8a8a8"/><rect x="24.59" y="771.46" width="2.41" height="4.06" fill="#a8a8a8"/><rect x="24.96" y="778.7" width="2.04" height="5.24" fill="#a8a8a8"/><rect x="24.11" y="800.03" width="2.89" height="3.14" fill="#a8a8a8"/><path d="M25 69.8H27M25 81.74H27M22.45 69.8V81.74M22.45 69.8H25M22.45 81.74H25M22.24 95.93H27M17.5 75.77V95.93M17.5 75.77H22.45M17.5 95.93H22.24M25 111.08H27M25 121.55H27M21.37 111.08V121.55M21.37 111.08H25M21.37 121.55H25M23.87 128.17H27M25 133.83H27M21.73 128.17V133.83M21.73 128.17H23.87M21.73 133.83H25M18.14 116.32V131M18.14 116.32H21.37M18.14 131H21.73M22.23 142.34H27M25 154.14H27M25 164.8H27M25 172.04H27M23.76 164.8V172.04M23.76 164.8H25M23.76 172.04H25M22.02 154.14V168.42M22.02 154.14H25M22.02 168.42H23.76M19.63 142.34V161.28M19.63 142.34H22.23M19.63 161.28H22.02M24.51 178.26H27M25 184.88H27M24.37 191.81H27M21.76 184.88V191.81M21.76 184.88H25M21.76 191.81H24.37M20.39 178.26V188.35M20.39 178.26H24.51M20.39 188.35H21.76M17.42 151.81V183.3M17.42 151.81H19.63M17.42 183.3H20.39M15.5 123.66V167.56M15.5 123.66H18.14M15.5 167.56H17.42M22.48 201.51H27M22.5 213.13H27M20.23 201.51V213.13M20.23 201.51H22.48M20.23 213.13H22.5M25 228.04H27M24.91 240.69H27M22.26 228.04V240.69M22.26 228.04H25M22.26 240.69H24.91M21.83 253.27H27M19.55 234.37V253.27M19.55 234.37H22.26M19.55 253.27H21.83M15 207.32V243.82M15 207.32H20.23M15 243.82H19.55M25 270.83H27M25 285.09H27M23.55 270.83V285.09M23.55 270.83H25M23.55 285.09H25M25 299.56H27M25 312.79H27M24.37 299.56V312.79M24.37 299.56H25M24.37 312.79H25M21.32 277.96V306.17M21.32 277.96H23.55M21.32 306.17H24.37M25 324.44H27M25 344.65H27M21.88 324.44V344.65M21.88 324.44H25M21.88 344.65H25M18.08 292.07V334.55M18.08 292.07H21.32M18.08 334.55H21.88M23.21 361.02H27M25 368.14H27M24.1 375.93H27M21.77 368.14V375.93M21.77 368.14H25M21.77 375.93H24.1M20.66 361.02V372.04M20.66 361.02H23.21M20.66 372.04H21.77M22.89 386.45H27M25 399.09H27M25 412.74H27M22.96 399.09V412.74M22.96 399.09H25M22.96 412.74H25M20.01 386.45V405.91M20.01 386.45H22.89M20.01 405.91H22.96M17.32 366.53V396.18M17.32 366.53H20.66M17.32 396.18H20.01M14.5 313.31V381.35M14.5 313.31H18.08M14.5 381.35H17.32M25 424.58H27M25 435.56H27M21.96 424.58V435.56M21.96 424.58H25M21.96 435.56H25M23.51 448.11H27M24.65 457.85H27M22.27 448.11V457.85M22.27 448.11H23.51M22.27 457.85H24.65M25 466.92H27M25 477.03H27M22.93 466.92V477.03M22.93 466.92H25M22.93 477.03H25M20.38 452.98V471.98M20.38 452.98H22.27M20.38 471.98H22.93M17.66 430.07V462.48M17.66 430.07H21.96M17.66 462.48H20.38M25 488.04H27M25 497.65H27M23.3 488.04V497.65M23.3 488.04H25M23.3 497.65H25M24.26 506.97H27M20.5 492.85V506.97M20.5 492.85H23.3M20.5 506.97H24.26M25 517.55H27M25 525.93H27M24.04 517.55V525.93M24.04 517.55H25M24.04 525.93H25M25 540.38H27M25 555.46H27M23.89 540.38V555.46M23.89 540.38H25M23.89 555.46H25M21.18 521.74V547.92M21.18 521.74H24.04M21.18 547.92H23.89M16.5 499.91V534.83M16.5 499.91H20.5M16.5 534.83H21.18M14 446.27V517.37M14 446.27H17.66M14 517.37H16.5M19.56 566.15H27M22.21 579.75H27M18.45 566.15V579.75M18.45 566.15H19.56M18.45 579.75H22.21M20.85 592.34H27M21.06 603.73H27M18.88 592.34V603.73M18.88 592.34H20.85M18.88 603.73H21.06M16 572.95V598.03M16 572.95H18.45M16 598.03H18.88M22.5 615.3H27M24.22 624.64H27M21.29 615.3V624.64M21.29 615.3H22.5M21.29 624.64H24.22M25 631.03H27M25 637.81H27M23.08 631.03V637.81M23.08 631.03H25M23.08 637.81H25M25 646.94H27M21.99 634.42V646.94M21.99 634.42H23.08M21.99 646.94H25M17.84 619.97V640.68M17.84 619.97H21.29M17.84 640.68H21.99M22.83 655.81H27M23.17 664.89H27M21.69 655.81V664.89M21.69 655.81H22.83M21.69 664.89H23.17M23.35 674.57H27M22.42 684.66H27M20.96 674.57V684.66M20.96 674.57H23.35M20.96 684.66H22.42M17.26 660.35V679.61M17.26 660.35H21.69M17.26 679.61H20.96M14.5 630.32V669.98M14.5 630.32H17.84M14.5 669.98H17.26M25 693.36H27M25 703.52H27M23.76 693.36V703.52M23.76 693.36H25M23.76 703.52H25M21.92 717.98H27M20.45 698.44V717.98M20.45 698.44H23.76M20.45 717.98H21.92M22.13 729.27H27M25 737.51H27M20.96 729.27V737.51M20.96 729.27H22.13M20.96 737.51H25M22.76 747.36H27M18.78 733.39V747.36M18.78 733.39H20.96M18.78 747.36H22.76M16.31 708.21V740.37M16.31 708.21H20.45M16.31 740.37H18.78M24.83 760.97H27M25 773.49H27M25 781.32H27M24.2 773.49V781.32M24.2 773.49H25M24.2 781.32H25M20.42 760.97V777.4M20.42 760.97H24.83M20.42 777.4H24.2M20.36 791.82H27M23.82 801.6H27M22.47 810.79H27M20.73 801.6V810.79M20.73 801.6H23.82M20.73 810.79H22.47M19.03 791.82V806.19M19.03 791.82H20.36M19.03 806.19H20.73M17.42 769.19V799M17.42 769.19H20.42M17.42 799H19.03M13 724.29V784.1M13 724.29H16.31M13 784.1H17.42M14 85.85V145.61M14 85.85H17.5M14 145.61H15.5M12.5 225.57V347.33M12.5 225.57H15M12.5 347.33H14.5M10.5 115.73V286.45M10.5 115.73H14M10.5 286.45H12.5M12.5 481.82V585.49M12.5 481.82H14M12.5 585.49H16M11 650.15V754.19M11 650.15H14.5M11 754.19H13M10 533.66V702.17M10 533.66H12.5M10 702.17H11M8 201.09V617.91M8 201.09H10.5M8 617.91H10M6 409.5H8" stroke="#666" stroke-width="0.85" fill="none"/><path d="M27.2 64V817" stroke="#8a8a8a" stroke-width="1.1" fill="none"/><defs><linearGradient id="cb" x1="0" x2="1" y1="0" y2="0"><stop offset="0" stop-color="#0000ff"/><stop offset="1" stop-color="#ffffff"/></linearGradient></defs><rect x="114.2" y="825.2" width="168.9" height="7.6" fill="url(#cb)" stroke="#222" stroke-width="0.8"/><path d="M114.2 832.8V836.2M155.4 832.8V836.2M176.3 832.8V836.2M197.6 832.8V836.2M219.3 832.8V836.2M240.7 832.8V836.2M262 832.8V836.2M283.1 832.8V836.2" stroke="#222" stroke-width="0.8"/><text x="111.7" y="846.9" font-size="9.6" text-anchor="middle" fill="#111">&lt;-1.6</text><text x="150.3" y="846.9" font-size="9.6" text-anchor="middle" fill="#111">-0.8</text><text x="174" y="846.9" font-size="9.6" text-anchor="middle" fill="#111">-0.4</text><text x="197.2" y="846.9" font-size="9.6" text-anchor="middle" fill="#111">0</text><text x="218.4" y="846.9" font-size="9.6" text-anchor="middle" fill="#111">0.4</text><text x="240.2" y="846.9" font-size="9.6" text-anchor="middle" fill="#111">0.8</text><text x="263.6" y="846.9" font-size="9.6" text-anchor="middle" fill="#111">1.2</text><text x="288.3" y="846.9" font-size="9.6" text-anchor="middle" fill="#111">&gt;1.6</text><rect x="389.3" y="2.6" width="438.2" height="353" rx="10.5" fill="#fff" stroke="#8c8c8c" stroke-width="1.3"/><text x="402.3" y="44.3" font-size="28" fill="#000">B</text><rect x="413.8" y="186.3" width="394" height="133.5" rx="14" fill="#6683ff" stroke="#5a72e0" stroke-width="0.6"/><rect x="607.8" y="52.6" width="199.8" height="266.9" rx="13" fill="rgba(252,206,244,0.63)" stroke="rgba(190,150,185,0.55)" stroke-width="0.8"/><path d="M557.7 130.48 A75.5 75.5 0 1 0 557.7 240.52 A75.64 75.64 0 0 1 661.3 240.52 A75.5 75.5 0 1 0 661.3 130.48 A75.64 75.64 0 0 1 557.7 130.48 Z" fill="rgba(140,250,132,0.65)" stroke="#2c4f40" stroke-width="1.2"/><path d="M578.9 154.9L578.9 104.5A30.6 30.6 0 0 1 640.1 104.5L640.1 154.9L690.5 154.9A30.6 30.6 0 0 1 690.5 216.1L640.1 216.1L640.1 266.5A30.6 30.6 0 0 1 578.9 266.5L578.9 216.1L528.5 216.1A30.6 30.6 0 0 1 528.5 154.9Z" fill="rgba(144,150,248,0.72)" stroke="#2a3070" stroke-width="1.2"/><path d="M682.72 172.32A13.3 13.3 0 1 1 682.72 198.68A16.39 16.39 0 0 0 670.6 227.96A13.3 13.3 0 1 1 651.96 246.6A16.39 16.39 0 0 0 622.68 258.72A13.3 13.3 0 1 1 596.32 258.72A16.39 16.39 0 0 0 567.04 246.6A13.3 13.3 0 1 1 548.4 227.96A16.39 16.39 0 0 0 536.28 198.68A13.3 13.3 0 1 1 536.28 172.32A16.39 16.39 0 0 0 548.4 143.04A13.3 13.3 0 1 1 567.04 124.4A16.39 16.39 0 0 0 596.32 112.28A13.3 13.3 0 1 1 622.68 112.28A16.39 16.39 0 0 0 651.96 124.4A13.3 13.3 0 1 1 670.6 143.04A16.39 16.39 0 0 0 682.72 172.32Z" fill="rgba(33,219,233,0.7)" stroke="#164850" stroke-width="1.2"/><circle cx="609.5" cy="185.5" r="75" fill="rgba(170,160,160,0.6)" stroke="rgba(110,105,115,0.55)" stroke-width="0.8"/><g font-size="10.2"><text x="682.6" y="39.3" fill="#d9c9d9">Female</text><text x="682.3" y="47.7" fill="#d9c9d9">(11104)</text><text x="565.6" y="66" fill="#8585d6">Copepodid</text><text x="565" y="74.3" fill="#8585d6">(11372)</text><text x="469.6" y="79.1" fill="#45c9cc">Nauplius I-II</text><text x="469" y="87.4" fill="#45c9cc">(10683)</text><text x="527.5" y="93" fill="#939393">Chalimus III-IV</text><text x="527" y="101.3" fill="#939393">(10884)</text><text x="413.5" y="130.5" fill="rgba(150,215,150,0.85)">Chalimus I-II</text><text x="413" y="139.5" fill="rgba(150,215,150,0.85)">(7772)</text><text x="482.5" y="331" fill="#3347c0">Male</text><text x="480.7" y="340" fill="#3347c0">(11577)</text></g><path d="M503 91 L547 118" stroke="#9aa8b0" stroke-width="1.4" stroke-dasharray="1.4 2.2" fill="none"/><path d="M556 105.5 L574 117" stroke="#a5a5a5" stroke-width="1.4" stroke-dasharray="1.4 2.2" fill="none"/><g font-size="6.0" font-weight="bold" text-anchor="middle" fill="#15171f"><text x="751.8" y="85.3">339</text><text x="480.7" y="152.3">59</text><text x="472.5" y="216.7">14</text><text x="475.1" y="289.1">524</text><text x="735.1" y="279.9">146</text><text x="512.3" y="174.5">27</text><text x="513.5" y="202.9">13</text><text x="526.7" y="183.6">67</text><text x="527.5" y="191.8">42</text><text x="548.9" y="133.5">15</text><text x="559.8" y="126.8">245</text><text x="575.4" y="125.6">251</text><text x="585.8" y="121">62</text><text x="568.7" y="135.5">47</text><text x="590.7" y="139.2">60</text><text x="619.2" y="137.4">92</text><text x="556.6" y="146.8">4</text><text x="547" y="154.7">6</text><text x="542.9" y="165.3">5</text><text x="577.5" y="177">24</text><text x="633.9" y="177">64</text><text x="577.8" y="200.5">79</text><text x="635.9" y="201.7">6816</text><text x="547.3" y="208.9">21</text><text x="551" y="218.6">13</text><text x="559.8" y="225.1">14</text><text x="547.8" y="239.7">1</text><text x="557.5" y="248.7">65</text><text x="570.3" y="238.7">59</text><text x="590.1" y="234.6">121</text><text x="619.5" y="235.5">1508</text><text x="646.3" y="234.8">168</text><text x="650.4" y="225.8">103</text><text x="578.2" y="245.7">200</text><text x="586.1" y="249.2">84</text><text x="630.4" y="252.5">414</text><text x="643.3" y="245.7">270</text><text x="657.4" y="247.7">64</text><text x="667.9" y="239.6">11</text><text x="668.5" y="220.1">34</text><text x="671.3" y="210.9">128</text><text x="691.8" y="208.8">11</text><text x="602.6" y="262.8">130</text><text x="614.4" y="268.4">159</text><text x="592.7" y="279.2">170</text><text x="620.1" y="279.2">102</text><text x="594.1" y="95">431</text><text x="621.6" y="93">68</text><text x="603.7" y="107">315</text><text x="614.8" y="106.5">143</text><text x="628.8" y="119.1">49</text><text x="644.2" y="125.8">120</text><text x="644.8" y="135.4">39</text><text x="661.8" y="124.9">55</text><text x="667.5" y="132">5</text><text x="652.1" y="145.7">14</text><text x="666.8" y="154.2">7</text><text x="668.5" y="163">8</text><text x="700.5" y="171.9">8</text><text x="688.7" y="184.2">62</text><text x="688.7" y="192.4">89</text><text x="726.5" y="148">4</text><text x="724.5" y="224.9">4</text></g><rect x="389.3" y="372.9" width="438.2" height="468.4" rx="10.5" fill="#fff" stroke="#8c8c8c" stroke-width="1.3"/><text x="401.8" y="417.2" font-size="27.5" fill="#000">C</text><polygon points="609.6,578.74 620.92,582.42 627.91,592.05 627.91,603.95 620.92,613.58 609.6,617.26 598.28,613.58 591.29,603.95 591.29,592.05 598.28,582.42" fill="none" stroke="#63666e" stroke-width="1.1" stroke-dasharray="3 2.2"/><polygon points="609.6,559.49 632.24,566.84 646.23,586.1 646.23,609.9 632.24,629.16 609.6,636.51 586.96,629.16 572.97,609.9 572.97,586.1 586.96,566.84" fill="none" stroke="#63666e" stroke-width="1.1" stroke-dasharray="3 2.2"/><polygon points="609.6,540.23 643.56,551.26 664.54,580.15 664.54,615.85 643.56,644.74 609.6,655.77 575.64,644.74 554.66,615.85 554.66,580.15 575.64,551.26" fill="none" stroke="#63666e" stroke-width="1.1" stroke-dasharray="3 2.2"/><polygon points="609.6,520.97 654.88,535.68 682.86,574.2 682.86,621.8 654.88,660.32 609.6,675.03 564.32,660.32 536.34,621.8 536.34,574.2 564.32,535.68" fill="none" stroke="#63666e" stroke-width="1.1" stroke-dasharray="3 2.2"/><polygon points="609.6,501.71 666.2,520.1 701.17,568.25 701.17,627.75 666.2,675.9 609.6,694.29 553,675.9 518.03,627.75 518.03,568.25 553,520.1" fill="none" stroke="#63666e" stroke-width="1.1" stroke-dasharray="3 2.2"/><polygon points="609.6,482.46 677.51,504.52 719.49,562.3 719.49,633.7 677.51,691.48 609.6,713.54 541.69,691.48 499.71,633.7 499.71,562.3 541.69,504.52" fill="none" stroke="#63666e" stroke-width="1.1" stroke-dasharray="3 2.2"/><polygon points="609.6,463.2 688.83,488.94 737.8,556.34 737.8,639.66 688.83,707.06 609.6,732.8 530.37,707.06 481.4,639.66 481.4,556.34 530.37,488.94" fill="none" stroke="#63666e" stroke-width="1.1" stroke-dasharray="3 2.2"/><defs><linearGradient id="pk" x1="0" x2="0" y1="0" y2="1"><stop offset="0" stop-color="#fde0e3"/><stop offset="0.5" stop-color="#fcc2c6"/><stop offset="1" stop-color="#ff9ea4"/></linearGradient></defs><polygon points="609.6,482.46 625.9,575.57 638.9,588.48 642.57,608.71 646.95,649.41 609.6,696.98 593.3,620.43 583.96,606.33 583.96,589.67 592.17,574.01" fill="url(#pk)" stroke="#3d4260" stroke-width="1.3"/><polygon points="609.6,578.74 620.92,582.42 630.11,591.34 704.84,628.94 688.15,706.12 609.6,628.04 598.28,613.58 591.29,603.95 591.29,592.05 598.28,582.42" fill="#b6dbe9" stroke="#36546f" stroke-width="1.3"/><polygon points="609.6,526.75 634.73,563.41 660.88,581.34 690.18,624.18 659.4,666.55 609.6,640.37 586.96,629.16 580.3,607.52 582.86,589.31 571.57,545.65" fill="#c3d69b" stroke="#3f5548" stroke-width="1.3"/><polygon points="609.6,554.86 666.2,520.1 660.88,581.34 631.94,605.26 617.75,609.22 609.6,626.89 549.16,681.19 553.19,616.33 524.99,570.51 600.32,585.22" fill="#5288d6" stroke="#243f6c" stroke-width="1.3"/><g font-size="6.6" stroke-width="0.15" stroke="#333"><text x="603.3" y="600.2" text-anchor="end" fill="#14285a">0,0</text><text x="603.3" y="580.94" text-anchor="end" fill="#1a1a1a">5,0</text><text x="603.3" y="561.69" text-anchor="end" fill="#1a1a1a">10,0</text><text x="603.3" y="542.43" text-anchor="end" fill="#1a1a1a">15,0</text><text x="603.3" y="523.17" text-anchor="end" fill="#1a1a1a">20,0</text><text x="603.3" y="503.91" text-anchor="end" fill="#1a1a1a">25,0</text><text x="603.3" y="484.66" text-anchor="end" fill="#1a1a1a">30,0</text><text x="603.3" y="465.4" text-anchor="end" fill="#1a1a1a">35,0</text></g><rect x="404" y="536" width="81" height="28.5" fill="#fff"/><g font-size="11.6" text-anchor="middle" fill="#050505" stroke="#050505" stroke-width="0.32"><text x="610.5" y="438">Aminoacid transfer, repair</text><text x="611" y="452.8">and breakdown</text><text x="740.9" y="486.9">Cellular process</text><text x="779.5" y="546.7">Cytoskeletal</text><text x="779.6" y="561.1">and contractile</text><text x="779.4" y="575.9">elements</text><text x="776" y="647.3">Molting cycle</text><text x="749.3" y="706.6">Metabolism,</text><text x="748.8" y="721.6">homeostasis,</text><text x="749.3" y="735.7">mitochondrial genes</text><text x="613.5" y="748">Neuronal</text><text x="613.8" y="762.8">involvement and</text><text x="613.9" y="777.4">nervous system</text><text x="483" y="716.4">Reproduction</text><text x="437.6" y="625">Cell</text><text x="437.6" y="639.6">development</text><text x="437.6" y="654.3">and</text><text x="437.6" y="669.2">morphogenesis</text><text x="444.5" y="546.8">Transcription</text><text x="444.5" y="561.2">and translation</text><text x="508.6" y="484.4">Other</text></g><rect x="457.3" y="805.6" width="6.2" height="6.2" fill="#b6dbe9" stroke="#6a9ab8" stroke-width="0.8"/><text x="467" y="812" font-size="11.2" fill="#050505" stroke="#050505" stroke-width="0.28">Nauplius I-II/Copepodid</text><rect x="457.3" y="821" width="6.2" height="6.2" fill="#c3d69b" stroke="#7a9a6a" stroke-width="0.8"/><text x="467" y="826.8" font-size="11.2" fill="#050505" stroke="#050505" stroke-width="0.28">Chalimus I-II/Chalimus III-IV</text><rect x="637.3" y="805.6" width="6.2" height="6.2" fill="#fcd0d4" stroke="#b08090" stroke-width="0.8"/><text x="647" y="812" font-size="11.2" fill="#050505" stroke="#050505" stroke-width="0.28">Copepodid/Chalimus I-II</text><rect x="637.3" y="821" width="6.2" height="6.2" fill="#5288d6" stroke="#3a5a8a" stroke-width="0.8"/><text x="647" y="826.8" font-size="11.2" fill="#050505" stroke="#050505" stroke-width="0.28">Female/Male</text></svg></body></html>
